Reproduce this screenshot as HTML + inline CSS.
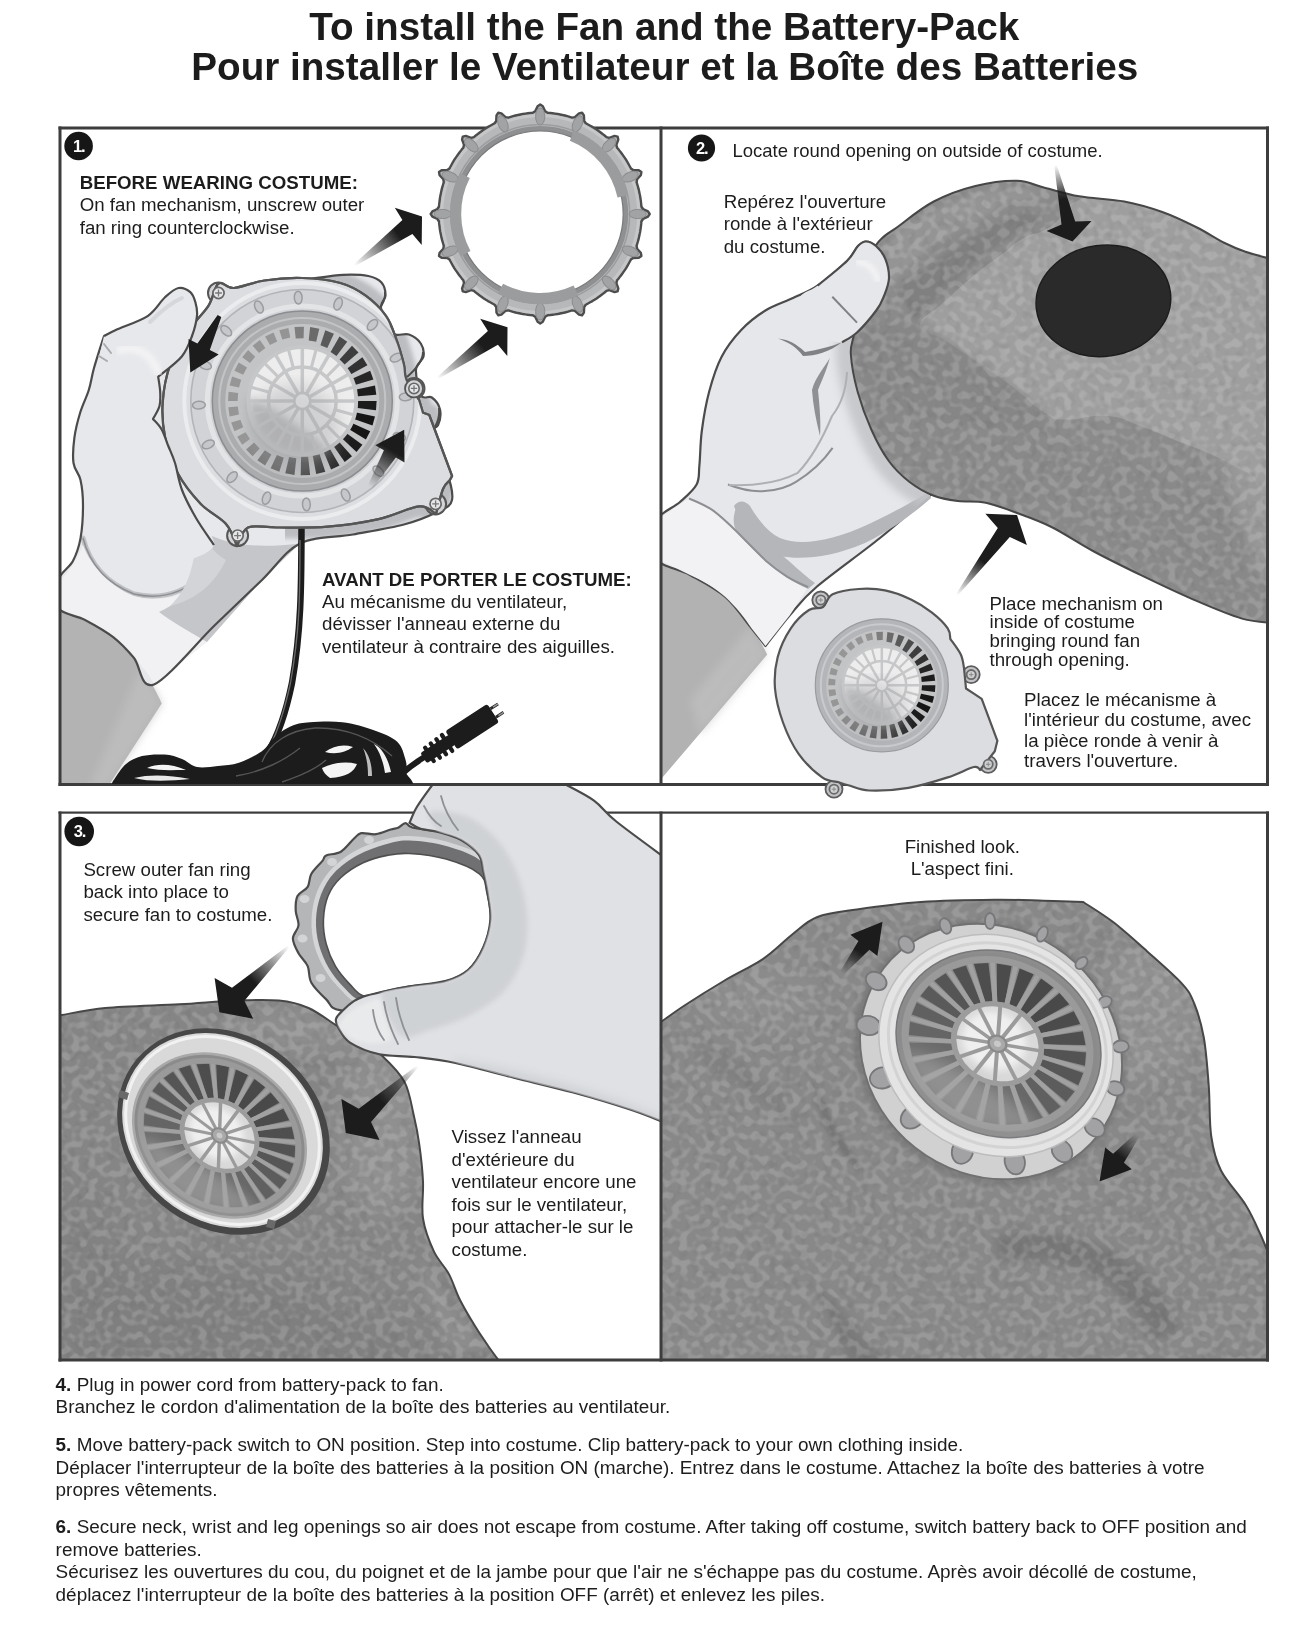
<!DOCTYPE html>
<html lang="en"><head><meta charset="utf-8"><title>To install the Fan and the Battery-Pack</title>
<style>
html,body{margin:0;padding:0;background:#fff;}
body{width:1300px;height:1625px;overflow:hidden;font-family:"Liberation Sans",sans-serif;}
svg{display:block;font-family:"Liberation Sans",sans-serif;}
</style></head><body>
<svg width="1300" height="1625" viewBox="0 0 1300 1625">
<filter id="soft" x="0" y="0" width="1300" height="1625" filterUnits="userSpaceOnUse"><feGaussianBlur stdDeviation="0.55"/></filter>
<g filter="url(#soft)">
<!-- defs -->
<defs>
<clipPath id="cp1"><rect x="60" y="128" width="600" height="656"/></clipPath>
<clipPath id="cp2"><rect x="662" y="128" width="605" height="656"/></clipPath>
<clipPath id="cp3"><rect x="60" y="813" width="600" height="547"/></clipPath>
<clipPath id="cp4"><rect x="662" y="813" width="605" height="547"/></clipPath>
<filter id="noise" x="0" y="0" width="100%" height="100%">
<feTurbulence type="fractalNoise" baseFrequency="0.125 0.135" numOctaves="1" seed="7" result="n"/>
<feColorMatrix type="matrix" values="0 0 0 0 1  0 0 0 0 1  0 0 0 0 1  6 0 0 0 -2.78"/>
</filter>
<filter id="noiseD" x="0" y="0" width="100%" height="100%">
<feTurbulence type="fractalNoise" baseFrequency="0.13 0.10" numOctaves="1" seed="23" result="n"/>
<feColorMatrix type="matrix" values="0 0 0 0 0  0 0 0 0 0  0 0 0 0 0  5 0 0 0 -2.7"/>
</filter>
<filter id="b2"><feGaussianBlur stdDeviation="2"/></filter>
<filter id="b4"><feGaussianBlur stdDeviation="4"/></filter>
<filter id="b8"><feGaussianBlur stdDeviation="8"/></filter>
<filter id="b14"><feGaussianBlur stdDeviation="14"/></filter>
</defs>
<rect x="0" y="0" width="1300" height="1625" fill="#ffffff"/>
<!-- panel1 -->
<g clip-path="url(#cp1)">
<path d="M55,606 C80,618 100,628 113.5,637.4 C125,647 140,665 151.5,683 C156,692 160,699 161.7,703.4 L108.4,786 L55,786Z" fill="#b3b3b4"/>
<path d="M140,668 C150,682 158,696 161.7,703.4 L108.4,786 L90,786Z" fill="#c0c0c1" opacity=".7" filter="url(#b4)"/>
<path d="M58,580C60.5,572.2 69,568.1 72.8,561.2C76.5,554.3 78.8,547.7 80.5,538.4C82.2,529.1 83,515.1 83,505.4C83,495.7 82.1,487.1 80.5,480C78.9,472.9 74.5,470.1 73.5,463C72.5,455.9 73.3,446.1 74.4,437.7C75.5,429.2 77.9,420.2 80.3,412.3C82.7,404.4 86.5,397.4 88.8,390C91.1,382.6 91.5,377 94,368C96.5,359 102.3,341.3 104,336C113.3,336.3 150.7,337.7 160,338C175,332.5 225.7,313.5 250,305C274.3,296.5 295.5,291.4 306,287C316.5,282.6 311.8,279.9 313,278.5C318,277.9 333.8,275.2 343,274.8C352.2,274.4 361.9,274.7 368.3,276C374.7,277.3 378.6,279.2 381.5,282.5C384.4,285.8 385.6,291.4 385.5,295.7C385.4,299.9 380.1,301.8 381,308C381.9,314.2 386.5,328.6 391.2,333C395.9,337.4 404.1,332.8 409,334.5C413.9,336.2 418.4,339.8 420.8,343.5C423.2,347.2 424.3,352.3 423.5,356.6C422.7,360.9 416.4,363 416,369.5C415.6,376 418.4,390.8 421,395.5C423.6,400.2 428.6,395.2 431.8,397.5C435,399.8 439,404.9 440,409.5C441,414.1 440,420.9 438,425.2C436,429.4 426.7,427.5 428,435C429.3,442.5 442,459.2 446,470C450,480.8 453.5,493 452,500C450.5,507 445,507.9 437,512C429,516.1 417.9,520.8 403.9,524.5C389.9,528.2 370.3,531.3 353,534.5C335.7,537.7 315.2,535.9 300,543.5C284.8,551.1 276.2,566.4 262,580C247.8,593.6 233,607.6 215,625C197,642.4 167.5,678.9 154,684.4C140.5,689.9 140.6,665.5 133.8,657.7C127.1,649.9 121.6,643.7 113.5,637.4C105.4,631.1 94.2,624.9 85,620C75.8,615.1 62.5,614.7 58,608C53.5,601.3 55.5,587.8 58,580Z" fill="#e7e8eb"/>
<path d="M83,538 C90,565 108,584 134,594 C160,600 182,594 202,576 C208,568 212,560 214,552" fill="none" stroke="#b9bbbf" stroke-width="5" stroke-linecap="round" opacity=".9"/>
<path d="M83,538 C90,565 108,584 134,594 C160,600 182,594 202,576" fill="none" stroke="#8d8f93" stroke-width="1.5"/>
<path d="M58,584 C70,570 78,558 83,545 C92,568 110,586 134,596 C160,603 185,597 204,580 L232,612 L207,642 L154,684.4 C148,672 140,664 133.8,657.7 C126,650 120,643 113.5,637.4 C100,628 80,618 58,608Z" fill="#f1f1f3"/>
<path d="M212,536 C235,546 262,548 300,543.5 L262,580 L207,642 C190,632 172,622 159,612 C175,604 192,594 203,578 C210,566 214,552 212,536Z" fill="#c5c6ca"/>
<path d="M196,518 C203,538 212,552 226,560 C214,585 195,600 170,606 C188,590 198,560 196,518Z" fill="#d3d4d8"/>
<clipPath id="bh1"><path d="M58,580C60.5,572.2 69,568.1 72.8,561.2C76.5,554.3 78.8,547.7 80.5,538.4C82.2,529.1 83,515.1 83,505.4C83,495.7 82.1,487.1 80.5,480C78.9,472.9 74.5,470.1 73.5,463C72.5,455.9 73.3,446.1 74.4,437.7C75.5,429.2 77.9,420.2 80.3,412.3C82.7,404.4 86.5,397.4 88.8,390C91.1,382.6 91.5,377 94,368C96.5,359 102.3,341.3 104,336C113.3,336.3 150.7,337.7 160,338C175,332.5 225.7,313.5 250,305C274.3,296.5 295.5,291.4 306,287C316.5,282.6 311.8,279.9 313,278.5C318,277.9 333.8,275.2 343,274.8C352.2,274.4 361.9,274.7 368.3,276C374.7,277.3 378.6,279.2 381.5,282.5C384.4,285.8 385.6,291.4 385.5,295.7C385.4,299.9 380.1,301.8 381,308C381.9,314.2 386.5,328.6 391.2,333C395.9,337.4 404.1,332.8 409,334.5C413.9,336.2 418.4,339.8 420.8,343.5C423.2,347.2 424.3,352.3 423.5,356.6C422.7,360.9 416.4,363 416,369.5C415.6,376 418.4,390.8 421,395.5C423.6,400.2 428.6,395.2 431.8,397.5C435,399.8 439,404.9 440,409.5C441,414.1 440,420.9 438,425.2C436,429.4 426.7,427.5 428,435C429.3,442.5 442,459.2 446,470C450,480.8 453.5,493 452,500C450.5,507 445,507.9 437,512C429,516.1 417.9,520.8 403.9,524.5C389.9,528.2 370.3,531.3 353,534.5C335.7,537.7 315.2,535.9 300,543.5C284.8,551.1 276.2,566.4 262,580C247.8,593.6 233,607.6 215,625C197,642.4 167.5,678.9 154,684.4C140.5,689.9 140.6,665.5 133.8,657.7C127.1,649.9 121.6,643.7 113.5,637.4C105.4,631.1 94.2,624.9 85,620C75.8,615.1 62.5,614.7 58,608C53.5,601.3 55.5,587.8 58,580Z"/></clipPath>
<clipPath id="bh1r"><rect x="285" y="260" width="200" height="300"/></clipPath><g clip-path="url(#bh1r)"><g clip-path="url(#bh1)"><path d="M218.5,283.5C222.7,280.5 226.2,288.5 233.8,288C241.4,287.5 252.8,282.2 264.2,280.5C275.6,278.8 289.6,277.6 302.3,278C315,278.4 329.8,280.1 340.4,283C351,285.9 358.2,290.2 365.8,295.7C373.4,301.2 380.9,308.8 386,316C391.1,323.2 393.2,330.8 396.2,338.8C399.2,346.8 402.2,357.4 403.9,364.2C405.6,371 403.9,373.6 406.4,379.5C408.9,385.4 417,396.4 419.1,399.8C419.7,401.9 422.3,410.4 422.9,412.5C424,412.9 428.2,414.6 429.3,415C433.1,425.2 448.3,465.8 452.1,476C451.7,476.8 450,479.8 449.6,480.5C448.5,481.9 445.3,483.4 443,489C440.7,494.6 437.2,509.8 436,514C433.2,512.7 428.7,505.5 419.1,506.4C409.5,507.2 393.7,515.7 378.5,519.1C363.3,522.5 344.6,525.3 327.7,526.7C310.8,528.1 290.2,527.4 276.9,527.5C263.6,527.6 254.7,524.4 248,527.5C241.3,530.6 238.8,542.9 237,546C235.2,542.4 232.2,531.2 226.2,524.2C220.2,517.2 208.9,512.4 200.8,503.9C192.8,495.4 183.8,484.4 177.9,473.4C172,462.4 167.7,449.8 165.2,437.9C162.7,426 161.8,414.6 162.7,402.3C163.5,390 166.1,376.1 170.3,364.2C174.5,352.3 181.8,340.9 188.1,331.2C194.4,321.5 203.3,313.8 208.4,305.9C213.5,297.9 214.3,286.5 218.5,283.5Z" fill="none" stroke="#bcbdc1" stroke-width="22" filter="url(#b2)"/></g></g>
<path d="M58,580C60.5,572.2 69,568.1 72.8,561.2C76.5,554.3 78.8,547.7 80.5,538.4C82.2,529.1 83,515.1 83,505.4C83,495.7 82.1,487.1 80.5,480C78.9,472.9 74.5,470.1 73.5,463C72.5,455.9 73.3,446.1 74.4,437.7C75.5,429.2 77.9,420.2 80.3,412.3C82.7,404.4 86.5,397.4 88.8,390C91.1,382.6 91.5,377 94,368C96.5,359 102.3,341.3 104,336C113.3,336.3 150.7,337.7 160,338C175,332.5 225.7,313.5 250,305C274.3,296.5 295.5,291.4 306,287C316.5,282.6 311.8,279.9 313,278.5C318,277.9 333.8,275.2 343,274.8C352.2,274.4 361.9,274.7 368.3,276C374.7,277.3 378.6,279.2 381.5,282.5C384.4,285.8 385.6,291.4 385.5,295.7C385.4,299.9 380.1,301.8 381,308C381.9,314.2 386.5,328.6 391.2,333C395.9,337.4 404.1,332.8 409,334.5C413.9,336.2 418.4,339.8 420.8,343.5C423.2,347.2 424.3,352.3 423.5,356.6C422.7,360.9 416.4,363 416,369.5C415.6,376 418.4,390.8 421,395.5C423.6,400.2 428.6,395.2 431.8,397.5C435,399.8 439,404.9 440,409.5C441,414.1 440,420.9 438,425.2C436,429.4 426.7,427.5 428,435C429.3,442.5 442,459.2 446,470C450,480.8 453.5,493 452,500C450.5,507 445,507.9 437,512C429,516.1 417.9,520.8 403.9,524.5C389.9,528.2 370.3,531.3 353,534.5C335.7,537.7 315.2,535.9 300,543.5C284.8,551.1 276.2,566.4 262,580C247.8,593.6 233,607.6 215,625C197,642.4 167.5,678.9 154,684.4C140.5,689.9 140.6,665.5 133.8,657.7C127.1,649.9 121.6,643.7 113.5,637.4C105.4,631.1 94.2,624.9 85,620C75.8,615.1 62.5,614.7 58,608C53.5,601.3 55.5,587.8 58,580Z" fill="none" stroke="#4b4b4b" stroke-width="2.2" stroke-linejoin="round"/>
<path d="M372,316 C380,310 386,300 385,292 M407,377 C415,370 423,360 423,352 M428,435 C436,428 440,418 439,408" fill="none" stroke="#4b4b4b" stroke-width="2"/>
<path d="M301.5,520 C301.5,590 301,632 292,683 C286,712 279,734 268,752" fill="none" stroke="#1d1d1d" stroke-width="6.5"/>
<path d="M300,540 C300,600 299.5,632 290.5,683 C285,708 279,728 271,744" fill="none" stroke="#6d6d6d" stroke-width="1.3"/>
<circle cx="218.5" cy="293" r="10.5" fill="#d3d4d7" stroke="#555" stroke-width="2"/>
<circle cx="414" cy="388.4" r="10.5" fill="#d3d4d7" stroke="#555" stroke-width="2"/>
<circle cx="435.6" cy="503.9" r="10.5" fill="#d3d4d7" stroke="#555" stroke-width="2"/>
<circle cx="237.6" cy="535.6" r="10.5" fill="#d3d4d7" stroke="#555" stroke-width="2"/>
<path d="M218.5,283.5C222.7,280.5 226.2,288.5 233.8,288C241.4,287.5 252.8,282.2 264.2,280.5C275.6,278.8 289.6,277.6 302.3,278C315,278.4 329.8,280.1 340.4,283C351,285.9 358.2,290.2 365.8,295.7C373.4,301.2 380.9,308.8 386,316C391.1,323.2 393.2,330.8 396.2,338.8C399.2,346.8 402.2,357.4 403.9,364.2C405.6,371 403.9,373.6 406.4,379.5C408.9,385.4 417,396.4 419.1,399.8C419.7,401.9 422.3,410.4 422.9,412.5C424,412.9 428.2,414.6 429.3,415C433.1,425.2 448.3,465.8 452.1,476C451.7,476.8 450,479.8 449.6,480.5C448.5,481.9 445.3,483.4 443,489C440.7,494.6 437.2,509.8 436,514C433.2,512.7 428.7,505.5 419.1,506.4C409.5,507.2 393.7,515.7 378.5,519.1C363.3,522.5 344.6,525.3 327.7,526.7C310.8,528.1 290.2,527.4 276.9,527.5C263.6,527.6 254.7,524.4 248,527.5C241.3,530.6 238.8,542.9 237,546C235.2,542.4 232.2,531.2 226.2,524.2C220.2,517.2 208.9,512.4 200.8,503.9C192.8,495.4 183.8,484.4 177.9,473.4C172,462.4 167.7,449.8 165.2,437.9C162.7,426 161.8,414.6 162.7,402.3C163.5,390 166.1,376.1 170.3,364.2C174.5,352.3 181.8,340.9 188.1,331.2C194.4,321.5 203.3,313.8 208.4,305.9C213.5,297.9 214.3,286.5 218.5,283.5Z" fill="#dcdde0" stroke="#555" stroke-width="2.2" stroke-linejoin="round"/>
<clipPath id="hs1"><path d="M218.5,283.5C222.7,280.5 226.2,288.5 233.8,288C241.4,287.5 252.8,282.2 264.2,280.5C275.6,278.8 289.6,277.6 302.3,278C315,278.4 329.8,280.1 340.4,283C351,285.9 358.2,290.2 365.8,295.7C373.4,301.2 380.9,308.8 386,316C391.1,323.2 393.2,330.8 396.2,338.8C399.2,346.8 402.2,357.4 403.9,364.2C405.6,371 403.9,373.6 406.4,379.5C408.9,385.4 417,396.4 419.1,399.8C419.7,401.9 422.3,410.4 422.9,412.5C424,412.9 428.2,414.6 429.3,415C433.1,425.2 448.3,465.8 452.1,476C451.7,476.8 450,479.8 449.6,480.5C448.5,481.9 445.3,483.4 443,489C440.7,494.6 437.2,509.8 436,514C433.2,512.7 428.7,505.5 419.1,506.4C409.5,507.2 393.7,515.7 378.5,519.1C363.3,522.5 344.6,525.3 327.7,526.7C310.8,528.1 290.2,527.4 276.9,527.5C263.6,527.6 254.7,524.4 248,527.5C241.3,530.6 238.8,542.9 237,546C235.2,542.4 232.2,531.2 226.2,524.2C220.2,517.2 208.9,512.4 200.8,503.9C192.8,495.4 183.8,484.4 177.9,473.4C172,462.4 167.7,449.8 165.2,437.9C162.7,426 161.8,414.6 162.7,402.3C163.5,390 166.1,376.1 170.3,364.2C174.5,352.3 181.8,340.9 188.1,331.2C194.4,321.5 203.3,313.8 208.4,305.9C213.5,297.9 214.3,286.5 218.5,283.5Z"/></clipPath><g clip-path="url(#hs1)">
<circle cx="302.3" cy="401.0" r="118" fill="none" stroke="#ecedef" stroke-width="4" opacity=".9"/>
</g><g clip-path="url(#hs1)">
<circle cx="302.3" cy="401.0" r="111.5" fill="#d2d3d6" stroke="#b3b4b7" stroke-width="1.6"/>
<circle cx="302.3" cy="401.0" r="95" fill="none" stroke="#e3e4e6" stroke-width="5"/>
<ellipse cx="298.2" cy="297.6" rx="6.4" ry="3.9" transform="rotate(-92.3 298.2 297.6)" fill="#c6c7ca" stroke="#9b9c9f" stroke-width="1.5"/>
<ellipse cx="338.1" cy="303.9" rx="6.4" ry="3.9" transform="rotate(-69.8 338.1 303.9)" fill="#c6c7ca" stroke="#9b9c9f" stroke-width="1.5"/>
<ellipse cx="372.5" cy="324.9" rx="6.4" ry="3.9" transform="rotate(-47.3 372.5 324.9)" fill="#c6c7ca" stroke="#9b9c9f" stroke-width="1.5"/>
<ellipse cx="396.3" cy="357.6" rx="6.4" ry="3.9" transform="rotate(-24.8 396.3 357.6)" fill="#c6c7ca" stroke="#9b9c9f" stroke-width="1.5"/>
<ellipse cx="405.7" cy="396.9" rx="6.4" ry="3.9" transform="rotate(-2.3 405.7 396.9)" fill="#c6c7ca" stroke="#9b9c9f" stroke-width="1.5"/>
<ellipse cx="399.4" cy="436.8" rx="6.4" ry="3.9" transform="rotate(20.2 399.4 436.8)" fill="#c6c7ca" stroke="#9b9c9f" stroke-width="1.5"/>
<ellipse cx="378.4" cy="471.2" rx="6.4" ry="3.9" transform="rotate(42.7 378.4 471.2)" fill="#c6c7ca" stroke="#9b9c9f" stroke-width="1.5"/>
<ellipse cx="345.7" cy="495" rx="6.4" ry="3.9" transform="rotate(65.2 345.7 495)" fill="#c6c7ca" stroke="#9b9c9f" stroke-width="1.5"/>
<ellipse cx="306.4" cy="504.4" rx="6.4" ry="3.9" transform="rotate(87.7 306.4 504.4)" fill="#c6c7ca" stroke="#9b9c9f" stroke-width="1.5"/>
<ellipse cx="266.5" cy="498.1" rx="6.4" ry="3.9" transform="rotate(110.2 266.5 498.1)" fill="#c6c7ca" stroke="#9b9c9f" stroke-width="1.5"/>
<ellipse cx="232.1" cy="477.1" rx="6.4" ry="3.9" transform="rotate(132.7 232.1 477.1)" fill="#c6c7ca" stroke="#9b9c9f" stroke-width="1.5"/>
<ellipse cx="208.3" cy="444.4" rx="6.4" ry="3.9" transform="rotate(155.2 208.3 444.4)" fill="#c6c7ca" stroke="#9b9c9f" stroke-width="1.5"/>
<ellipse cx="198.9" cy="405.1" rx="6.4" ry="3.9" transform="rotate(177.7 198.9 405.1)" fill="#c6c7ca" stroke="#9b9c9f" stroke-width="1.5"/>
<ellipse cx="205.2" cy="365.2" rx="6.4" ry="3.9" transform="rotate(200.2 205.2 365.2)" fill="#c6c7ca" stroke="#9b9c9f" stroke-width="1.5"/>
<ellipse cx="226.2" cy="330.8" rx="6.4" ry="3.9" transform="rotate(222.7 226.2 330.8)" fill="#c6c7ca" stroke="#9b9c9f" stroke-width="1.5"/>
<ellipse cx="258.9" cy="307" rx="6.4" ry="3.9" transform="rotate(245.2 258.9 307)" fill="#c6c7ca" stroke="#9b9c9f" stroke-width="1.5"/>
</g>
<path d="M218.5,283.5C222.7,280.5 226.2,288.5 233.8,288C241.4,287.5 252.8,282.2 264.2,280.5C275.6,278.8 289.6,277.6 302.3,278C315,278.4 329.8,280.1 340.4,283C351,285.9 358.2,290.2 365.8,295.7C373.4,301.2 380.9,308.8 386,316C391.1,323.2 393.2,330.8 396.2,338.8C399.2,346.8 402.2,357.4 403.9,364.2C405.6,371 403.9,373.6 406.4,379.5C408.9,385.4 417,396.4 419.1,399.8C419.7,401.9 422.3,410.4 422.9,412.5C424,412.9 428.2,414.6 429.3,415C433.1,425.2 448.3,465.8 452.1,476C451.7,476.8 450,479.8 449.6,480.5C448.5,481.9 445.3,483.4 443,489C440.7,494.6 437.2,509.8 436,514C433.2,512.7 428.7,505.5 419.1,506.4C409.5,507.2 393.7,515.7 378.5,519.1C363.3,522.5 344.6,525.3 327.7,526.7C310.8,528.1 290.2,527.4 276.9,527.5C263.6,527.6 254.7,524.4 248,527.5C241.3,530.6 238.8,542.9 237,546C235.2,542.4 232.2,531.2 226.2,524.2C220.2,517.2 208.9,512.4 200.8,503.9C192.8,495.4 183.8,484.4 177.9,473.4C172,462.4 167.7,449.8 165.2,437.9C162.7,426 161.8,414.6 162.7,402.3C163.5,390 166.1,376.1 170.3,364.2C174.5,352.3 181.8,340.9 188.1,331.2C194.4,321.5 203.3,313.8 208.4,305.9C213.5,297.9 214.3,286.5 218.5,283.5Z" fill="none" stroke="#555" stroke-width="2.2" stroke-linejoin="round"/>
<circle cx="218.5" cy="293" r="5.6" fill="#e6e7e9" stroke="#666" stroke-width="1.7"/><path d="M215.1,293h6.8M218.5,289.6v6.8" stroke="#777" stroke-width="1.3"/>
<circle cx="414" cy="388.4" r="5.6" fill="#e6e7e9" stroke="#666" stroke-width="1.7"/><path d="M410.6,388.4h6.8M414,385.0v6.8" stroke="#777" stroke-width="1.3"/>
<circle cx="435.6" cy="503.9" r="5.6" fill="#e6e7e9" stroke="#666" stroke-width="1.7"/><path d="M432.20000000000005,503.9h6.8M435.6,500.5v6.8" stroke="#777" stroke-width="1.3"/>
<circle cx="237.6" cy="535.6" r="5.6" fill="#e6e7e9" stroke="#666" stroke-width="1.7"/><path d="M234.2,535.6h6.8M237.6,532.2v6.8" stroke="#777" stroke-width="1.3"/>
<circle cx="414" cy="388.4" r="9" fill="#d3d4d7" stroke="#555" stroke-width="1.8"/><circle cx="414" cy="388.4" r="5.2" fill="#e6e7e9" stroke="#666" stroke-width="1.6"/><path d="M410.8,388.4h6.4M414,385.2v6.4" stroke="#777" stroke-width="1.3"/>
<circle cx="302.3" cy="401.0" r="90" fill="#abacae" stroke="#8c8d90" stroke-width="1.5"/>
<circle cx="302.3" cy="401.0" r="83" fill="none" stroke="#c3c4c6" stroke-width="2"/>
<g transform="translate(302.3 401) rotate(0) scale(1 1)">
<circle r="77" fill="#c3c4c6"/>
<path d="M49.6,0L74.3,0L73.7,9.3L49.2,6.2Z" fill="#1a1a1a"/>
<path d="M48.2,10.2L72.7,15.4L70.2,24.4L46.6,16.2Z" fill="#181818"/>
<path d="M45.1,20.1L67.9,30.2L63.6,38.5L42.3,25.6Z" fill="#181818"/>
<path d="M40.4,29.4L60.1,43.7L54.2,50.9L36.4,34.2Z" fill="#1c1c1c"/>
<path d="M34,37.8L49.7,55.2L42.4,61L29,41.8Z" fill="#222222"/>
<path d="M26.1,45.2L37.2,64.4L28.8,68.5L20.2,48.1Z" fill="#2b2b2b"/>
<path d="M16.6,51.2L23,70.7L13.9,73L10.1,52.9Z" fill="#363636"/>
<path d="M5.8,55.4L7.8,73.9L-1.6,74.3L-1.2,55.6Z" fill="#434343"/>
<path d="M-6,57.3L-7.8,73.9L-17,72.3L-13.2,56.1Z" fill="#525252"/>
<path d="M-18.5,56.8L-23,70.7L-31.6,67.2L-25.4,54.1Z" fill="#636363"/>
<path d="M-30.9,53.5L-37.2,64.4L-44.9,59.2L-37.4,49.2Z" fill="#747474"/>
<path d="M-42.6,47.4L-49.7,55.2L-56.2,48.6L-48.2,41.6Z" fill="#888888"/>
<path d="M-52.3,38L-60.1,43.7L-65.1,35.8L-56.7,31.2Z" fill="#969696"/>
<path d="M-59.1,26.3L-67.9,30.2L-71.1,21.5L-61.9,18.7Z" fill="#969696"/>
<path d="M-63.3,13.4L-72.7,15.4L-74,6.2L-64.5,5.4Z" fill="#969696"/>
<path d="M-64.7,0L-74.3,0L-73.7,-9.3L-64.2,-8.1Z" fill="#969696"/>
<path d="M-63.3,-13.4L-72.7,-15.4L-70.2,-24.4L-61.1,-21.3Z" fill="#969696"/>
<path d="M-59.1,-26.3L-67.9,-30.2L-63.6,-38.5L-55.3,-33.5Z" fill="#969696"/>
<path d="M-52.3,-38L-60.1,-43.7L-54.2,-50.9L-47.1,-44.3Z" fill="#969696"/>
<path d="M-43.3,-48.1L-49.7,-55.2L-42.4,-61L-36.9,-53.1Z" fill="#969696"/>
<path d="M-32.3,-56L-37.2,-64.4L-28.8,-68.5L-25.1,-59.6Z" fill="#969696"/>
<path d="M-20,-61.5L-23,-70.7L-13.9,-73L-12.1,-63.5Z" fill="#949494"/>
<path d="M-6.6,-62.4L-7.8,-73.9L1.6,-74.3L1.3,-62.8Z" fill="#7e7e7e"/>
<path d="M6.4,-60.4L7.8,-73.9L17,-72.3L13.9,-59.2Z" fill="#6b6b6b"/>
<path d="M18.1,-55.8L23,-70.7L31.6,-67.2L25,-53.1Z" fill="#5a5a5a"/>
<path d="M28.3,-49.1L37.2,-64.4L44.9,-59.2L34.2,-45.1Z" fill="#4b4b4b"/>
<path d="M36.6,-40.7L49.7,-55.2L56.2,-48.6L41.4,-35.7Z" fill="#3c3c3c"/>
<path d="M42.8,-31.1L60.1,-43.7L65.1,-35.8L46.4,-25.5Z" fill="#303030"/>
<path d="M47,-20.9L67.9,-30.2L71.1,-21.5L49.3,-14.9Z" fill="#262626"/>
<path d="M49.3,-10.5L72.7,-15.4L74,-6.2L50.2,-4.2Z" fill="#1f1f1f"/>
<circle r="53.9" fill="#ededee"/>
<path d="M-53.9,-3.9 A53.9,53.9 0 0 0 26.9,48.5 C7.7,34.6 -19.2,11.5 -53.9,-3.9Z" fill="#9c9d9f" opacity=".6" filter="url(#b4)"/>
<line x1="0" y1="0" x2="53.9" y2="0" stroke="#c6c7c9" stroke-width="3.5"/>
<line x1="32.7" y1="8.8" x2="52.1" y2="14" stroke="#c6c7c9" stroke-width="3.1"/>
<line x1="0" y1="0" x2="46.7" y2="26.9" stroke="#c6c7c9" stroke-width="3.5"/>
<line x1="24" y1="24" x2="38.1" y2="38.1" stroke="#c6c7c9" stroke-width="3.1"/>
<line x1="0" y1="0" x2="27" y2="46.7" stroke="#c6c7c9" stroke-width="3.5"/>
<line x1="8.8" y1="32.7" x2="14" y2="52.1" stroke="#c6c7c9" stroke-width="3.1"/>
<line x1="0" y1="0" x2="0" y2="53.9" stroke="#c6c7c9" stroke-width="3.5"/>
<line x1="-8.8" y1="32.7" x2="-14" y2="52.1" stroke="#c6c7c9" stroke-width="3.1"/>
<line x1="-0" y1="0" x2="-26.9" y2="46.7" stroke="#c6c7c9" stroke-width="3.5"/>
<line x1="-24" y1="24" x2="-38.1" y2="38.1" stroke="#c6c7c9" stroke-width="3.1"/>
<line x1="-0" y1="0" x2="-46.7" y2="26.9" stroke="#c6c7c9" stroke-width="3.5"/>
<line x1="-32.7" y1="8.8" x2="-52.1" y2="14" stroke="#c6c7c9" stroke-width="3.1"/>
<line x1="-0" y1="0" x2="-53.9" y2="0" stroke="#c6c7c9" stroke-width="3.5"/>
<line x1="-32.7" y1="-8.8" x2="-52.1" y2="-14" stroke="#c6c7c9" stroke-width="3.1"/>
<line x1="-0" y1="-0" x2="-46.7" y2="-26.9" stroke="#c6c7c9" stroke-width="3.5"/>
<line x1="-24" y1="-24" x2="-38.1" y2="-38.1" stroke="#c6c7c9" stroke-width="3.1"/>
<line x1="-0" y1="-0" x2="-27" y2="-46.7" stroke="#c6c7c9" stroke-width="3.5"/>
<line x1="-8.8" y1="-32.7" x2="-14" y2="-52.1" stroke="#c6c7c9" stroke-width="3.1"/>
<line x1="-0" y1="-0" x2="-0" y2="-53.9" stroke="#c6c7c9" stroke-width="3.5"/>
<line x1="8.8" y1="-32.7" x2="14" y2="-52.1" stroke="#c6c7c9" stroke-width="3.1"/>
<line x1="0" y1="-0" x2="27" y2="-46.7" stroke="#c6c7c9" stroke-width="3.5"/>
<line x1="24" y1="-24" x2="38.1" y2="-38.1" stroke="#c6c7c9" stroke-width="3.1"/>
<line x1="0" y1="-0" x2="46.7" y2="-27" stroke="#c6c7c9" stroke-width="3.5"/>
<line x1="32.7" y1="-8.8" x2="52.1" y2="-14" stroke="#c6c7c9" stroke-width="3.1"/>
<circle r="53.9" fill="none" stroke="#c6c7c9" stroke-width="3.9"/>
<circle r="33.9" fill="none" stroke="#c6c7c9" stroke-width="3.5"/>
<circle r="8.1" fill="#f2f2f3" stroke="#c6c7c9" stroke-width="2.7"/>
</g>
<circle cx="294.3" cy="431.0" r="46" fill="#9d9ea0" opacity=".35" filter="url(#b8)"/>
<path d="M104,336C106,335 108.5,333.4 115.8,330C123.1,326.6 139.8,321.3 148,315.8C156.2,310.3 159.9,301.8 165,297.2C170.1,292.6 174.3,288.8 178.5,288C182.7,287.2 187.5,289.8 190.3,292.2C193.1,294.6 194.3,298.4 195.4,302.3C196.5,306.2 197.6,310.2 197,315.8C196.4,321.4 194.5,329.2 192,336C189.5,342.8 187.4,349.7 181.8,356.5C176.2,363.3 162.1,373.4 158.2,376.8C158.5,379.3 160,387.1 160.2,392C160.4,396.9 160.7,401.5 159.5,406C158.3,410.5 154.1,416.8 153,419C154.4,420.7 158.9,424.7 161.5,429.2C164.1,433.7 166.1,440.4 168.3,446C170.6,451.6 172.7,455.7 175,463C177.3,470.3 178.5,480.8 182,490C185.5,499.2 190.7,508.8 196,518C201.3,527.2 216.7,538 214,545C211.3,552 194,560.8 180,560C166,559.2 143.3,553.3 130,540C116.7,526.7 107,500 100,480C93,460 88.7,438 88,420C87.3,402 93.3,386 96,372C98.7,358 102.7,342 104,336Z" fill="#e7e8eb"/>
<path d="M104,336C106,335 108.5,333.4 115.8,330C123.1,326.6 139.8,321.3 148,315.8C156.2,310.3 159.9,301.8 165,297.2C170.1,292.6 174.3,288.8 178.5,288C182.7,287.2 187.5,289.8 190.3,292.2C193.1,294.6 194.3,298.4 195.4,302.3C196.5,306.2 197.6,310.2 197,315.8C196.4,321.4 194.5,329.2 192,336C189.5,342.8 187.4,349.7 181.8,356.5C176.2,363.3 162.1,373.4 158.2,376.8C158.5,379.3 160,387.1 160.2,392C160.4,396.9 160.7,401.5 159.5,406C158.3,410.5 154.1,416.8 153,419C154.4,420.7 158.9,424.7 161.5,429.2C164.1,433.7 166.1,440.4 168.3,446C170.6,451.6 172.7,455.7 175,463C177.3,470.3 178.5,480.8 182,490C185.5,499.2 190.7,508.8 196,518C201.3,527.2 211,540.5 214,545" fill="none" stroke="#4b4b4b" stroke-width="2.2" stroke-linejoin="round"/>
<path d="M150,322 C160,312 170,303 182,298" fill="none" stroke="#d6d7da" stroke-width="4" stroke-linecap="round"/>
<path d="M104,344 l7,9 M99,356 l8,5" stroke="#a9abaf" stroke-width="2" stroke-linecap="round"/>
<path d="M120,350 C135,345 150,352 158,372" fill="none" stroke="#f4f4f6" stroke-width="9" stroke-linecap="round" opacity=".8" filter="url(#b2)"/>
<defs><linearGradient id="ag1" gradientUnits="userSpaceOnUse" x1="370" y1="487" x2="392" y2="450"><stop offset="0" stop-color="#1b1b1b" stop-opacity="0"/><stop offset="1" stop-color="#1b1b1b"/></linearGradient><linearGradient id="ag2" gradientUnits="userSpaceOnUse" x1="354" y1="265" x2="398" y2="233"><stop offset="0" stop-color="#1b1b1b" stop-opacity="0"/><stop offset="1" stop-color="#1b1b1b"/></linearGradient><linearGradient id="ag3" gradientUnits="userSpaceOnUse" x1="437" y1="378" x2="482" y2="345"><stop offset="0" stop-color="#1b1b1b" stop-opacity="0"/><stop offset="1" stop-color="#1b1b1b"/></linearGradient></defs>
<path d="M217.7,315.1L197.4,343.5L188.5,338.9L190.3,372.5L218.7,354.5L209.8,350L221.3,316.9Z" fill="#1b1b1b"/>
<path d="M371.1,490.3L395.9,457.4L404.5,462.6L404.2,429.8L375.3,445.2L383.9,450.3L366.9,487.7Z" fill="url(#ag1)"/>
</g>
<path d="M354.6,266.3L412.4,233.9L421.7,245.1L422,216.5L394.8,207.8L402.4,220.1L353.4,264.7Z" fill="url(#ag2)"/>
<path d="M437.6,379.3L497.9,344.8L507.3,355.9L507.5,327.3L480.2,318.7L487.9,331L436.4,377.7Z" fill="url(#ag3)"/>
<!-- panel2 -->
<g clip-path="url(#cp2)">
<path d="M655,557 C690,572 712,585 725.4,597 C738,608 748,622 751.5,628.3 C760,640 765,650 767.2,654.5 L662,778 L655,790Z" fill="#b2b2b3"/>
<path d="M750,626 L767.2,654.5 L700,735 L690,700Z" fill="#c4c4c5" opacity=".55" filter="url(#b4)"/>
<path d="M655,522C659.2,512.7 673.1,508.2 680,502C686.9,495.8 693.4,490.6 696.6,484.5C699.8,478.4 698.5,474.3 699.4,465.4C700.3,456.5 700.2,443.3 701.8,431C703.4,418.7 705.9,403.8 709.2,391.5C712.5,379.2 716.2,367.2 721.5,357C726.8,346.8 733.8,337.8 741.2,330C748.6,322.2 757.2,315.6 765.8,310.3C774.4,305 784.4,302.1 793,298C801.6,293.9 808.5,291.9 817.5,285.7C826.5,279.5 840.2,267.6 847,261C853.8,254.4 854.8,249.2 858,246C861.2,242.8 863,241.5 866,241.5C869,241.5 872.8,243.2 876,246C879.2,248.8 883,253.2 885.2,258.6C887.4,264 889.2,272.1 889,278.3C888.8,284.5 886.1,290.7 884,296C881.9,301.3 873.9,304.3 876.6,310C879.3,315.7 886.1,311.7 900,330C913.9,348.3 953.3,393.3 960,420C966.7,446.7 945.1,477.3 940,490C934.9,502.7 939.4,488 929.4,496C919.4,504 898.7,522.9 880,538C861.3,553.1 832,573.7 817,586.5C802,599.3 798.6,605.1 790,615C781.4,624.9 769.6,640.8 765.5,646C763.2,643 758.2,636.5 751.5,628.3C744.8,620.1 735.6,605.9 725.4,597C715.1,588.1 701.7,581.5 690,575C678.3,568.5 660.8,566.8 655,558C649.2,549.2 650.8,531.3 655,522Z" fill="#e6e7ea" stroke="#4b4b4b" stroke-width="2.2" stroke-linejoin="round"/>
<path d="M655,522 C668,512 680,504 689,498.5 C700,503 708,507 712.9,510.4 C722,517 731,526 739.4,534.2 C748,543 757,552 765.8,560.7 C773,567 780,572 787,576.6 C794,581 801,584 808.1,587.1 L790,615 L765.5,646 L751.5,628.3 C745,618 736,607 725.4,597 C714,587 703,581 690,575 C678,569 668,564 655,558Z" fill="#f2f2f4"/>
<path d="M734,506 C738,500 745,500 750,506 C758,520 768,532 780,538 C800,546 830,542 869,524 C895,512 915,500 929,492 L931,498 C915,512 895,528 865,543 C830,558 800,560 780,556 C760,548 742,528 734,506Z" fill="#b5b6ba"/>
<path d="M736,508 C748,520 770,545 790,562 C800,571 808,578 815,583 L808.1,589 C801,586 794,582 787,577.5 C780,573 773,568 765.8,561.5 C757,553 748,544 739.4,535 C735,530 731,522 736,508Z" fill="#b5b6ba"/>
<path d="M689,498.5 C700,503 708,507 712.9,510.4 C722,517 731,526 739.4,534.2 C748,543 757,552 765.8,560.7 C773,567 780,572 787,576.6 C794,581 801,584 808.1,587.1" fill="none" stroke="#8d8f93" stroke-width="2"/>
<clipPath id="h2c"><path d="M655,522C659.2,512.7 673.1,508.2 680,502C686.9,495.8 693.4,490.6 696.6,484.5C699.8,478.4 698.5,474.3 699.4,465.4C700.3,456.5 700.2,443.3 701.8,431C703.4,418.7 705.9,403.8 709.2,391.5C712.5,379.2 716.2,367.2 721.5,357C726.8,346.8 733.8,337.8 741.2,330C748.6,322.2 757.2,315.6 765.8,310.3C774.4,305 784.4,302.1 793,298C801.6,293.9 808.5,291.9 817.5,285.7C826.5,279.5 840.2,267.6 847,261C853.8,254.4 854.8,249.2 858,246C861.2,242.8 863,241.5 866,241.5C869,241.5 872.8,243.2 876,246C879.2,248.8 883,253.2 885.2,258.6C887.4,264 889.2,272.1 889,278.3C888.8,284.5 886.1,290.7 884,296C881.9,301.3 873.9,304.3 876.6,310C879.3,315.7 886.1,311.7 900,330C913.9,348.3 953.3,393.3 960,420C966.7,446.7 945.1,477.3 940,490C934.9,502.7 939.4,488 929.4,496C919.4,504 898.7,522.9 880,538C861.3,553.1 832,573.7 817,586.5C802,599.3 798.6,605.1 790,615C781.4,624.9 769.6,640.8 765.5,646C763.2,643 758.2,636.5 751.5,628.3C744.8,620.1 735.6,605.9 725.4,597C715.1,588.1 701.7,581.5 690,575C678.3,568.5 660.8,566.8 655,558C649.2,549.2 650.8,531.3 655,522Z"/></clipPath>
<g clip-path="url(#h2c)"><path d="M854.2,333C855.7,322.4 856.5,304.4 860,290C863.5,275.6 868.5,257.2 875,246.5C881.5,235.8 889.4,233.3 899.2,225.8C909,218.3 921.1,208.1 933.8,201.5C946.5,194.9 961.5,189.4 975.4,186C989.3,182.6 1005.5,180.5 1017,180.8C1028.5,181.1 1034.2,185.1 1044.6,187.7C1055,190.3 1065.9,194 1079.2,196.3C1092.5,198.6 1110.4,198.9 1124.2,201.5C1138,204.1 1150.2,207.7 1162.3,212C1174.4,216.3 1186.6,222.3 1197,227.5C1207.4,232.7 1216.5,239 1224.6,243C1232.7,247 1237,248.9 1245.4,251.7C1253.8,254.5 1270.1,258.6 1275,260C1275,320.5 1275,562.5 1275,623C1269.5,622.3 1255.6,622.5 1242,618.6C1228.4,614.7 1210.2,606.8 1193.5,599.6C1176.8,592.4 1158.2,583.5 1141.5,575.4C1124.8,567.3 1108,559.1 1093,551C1078,542.9 1064.2,533.3 1051.5,527C1038.8,520.7 1028,517 1017,513C1006,508.9 995.6,504.7 985.8,502.7C976,500.7 966.7,502.1 958,501C949.3,499.9 941.9,499 933.8,495.8C925.7,492.6 917.1,487.8 909.6,482C902.1,476.2 895.1,469.7 888.8,461C882.4,452.3 876.7,441.5 871.5,430C866.3,418.5 861.2,404.7 857.7,392C854.2,379.3 851.4,363.6 850.8,353.8C850.2,344 852.7,343.6 854.2,333Z" fill="none" stroke="#c2c3c7" stroke-width="30" opacity=".85" filter="url(#b4)"/></g>
<path d="M728,484.5 C742,490 752,492 764.6,491 C778,490 788,487 796,481.8 C812,472 824,460 832.6,447.8" fill="none" stroke="#8c8e92" stroke-width="2"/>
<path d="M778,338.6 C790,340 796,344 805,352 C818,350 830,347 842,342.3 C830,352 815,356 803,356 C797,348 790,343 778,338.6Z" fill="#7f8185"/>
<path d="M829.8,358 C826,372 822,380 818,390 C820,410 821,425 820,436 C816,420 813,405 812,390 C815,378 824,368 829.8,358Z" fill="#8e9094"/>
<path d="M832.3,296.8 L857,322.6" stroke="#7f8185" stroke-width="2"/>
<path d="M847,372 C846,392 840,406 832,416 C822,440 812,458 797.8,472.8 C780,482 755,486 729,485" fill="none" stroke="#aeb0b4" stroke-width="2"/>
<clipPath id="rk2"><path d="M854.2,333C855.7,322.4 856.5,304.4 860,290C863.5,275.6 868.5,257.2 875,246.5C881.5,235.8 889.4,233.3 899.2,225.8C909,218.3 921.1,208.1 933.8,201.5C946.5,194.9 961.5,189.4 975.4,186C989.3,182.6 1005.5,180.5 1017,180.8C1028.5,181.1 1034.2,185.1 1044.6,187.7C1055,190.3 1065.9,194 1079.2,196.3C1092.5,198.6 1110.4,198.9 1124.2,201.5C1138,204.1 1150.2,207.7 1162.3,212C1174.4,216.3 1186.6,222.3 1197,227.5C1207.4,232.7 1216.5,239 1224.6,243C1232.7,247 1237,248.9 1245.4,251.7C1253.8,254.5 1270.1,258.6 1275,260C1275,320.5 1275,562.5 1275,623C1269.5,622.3 1255.6,622.5 1242,618.6C1228.4,614.7 1210.2,606.8 1193.5,599.6C1176.8,592.4 1158.2,583.5 1141.5,575.4C1124.8,567.3 1108,559.1 1093,551C1078,542.9 1064.2,533.3 1051.5,527C1038.8,520.7 1028,517 1017,513C1006,508.9 995.6,504.7 985.8,502.7C976,500.7 966.7,502.1 958,501C949.3,499.9 941.9,499 933.8,495.8C925.7,492.6 917.1,487.8 909.6,482C902.1,476.2 895.1,469.7 888.8,461C882.4,452.3 876.7,441.5 871.5,430C866.3,418.5 861.2,404.7 857.7,392C854.2,379.3 851.4,363.6 850.8,353.8C850.2,344 852.7,343.6 854.2,333Z"/></clipPath>
<path d="M854.2,333C855.7,322.4 856.5,304.4 860,290C863.5,275.6 868.5,257.2 875,246.5C881.5,235.8 889.4,233.3 899.2,225.8C909,218.3 921.1,208.1 933.8,201.5C946.5,194.9 961.5,189.4 975.4,186C989.3,182.6 1005.5,180.5 1017,180.8C1028.5,181.1 1034.2,185.1 1044.6,187.7C1055,190.3 1065.9,194 1079.2,196.3C1092.5,198.6 1110.4,198.9 1124.2,201.5C1138,204.1 1150.2,207.7 1162.3,212C1174.4,216.3 1186.6,222.3 1197,227.5C1207.4,232.7 1216.5,239 1224.6,243C1232.7,247 1237,248.9 1245.4,251.7C1253.8,254.5 1270.1,258.6 1275,260C1275,320.5 1275,562.5 1275,623C1269.5,622.3 1255.6,622.5 1242,618.6C1228.4,614.7 1210.2,606.8 1193.5,599.6C1176.8,592.4 1158.2,583.5 1141.5,575.4C1124.8,567.3 1108,559.1 1093,551C1078,542.9 1064.2,533.3 1051.5,527C1038.8,520.7 1028,517 1017,513C1006,508.9 995.6,504.7 985.8,502.7C976,500.7 966.7,502.1 958,501C949.3,499.9 941.9,499 933.8,495.8C925.7,492.6 917.1,487.8 909.6,482C902.1,476.2 895.1,469.7 888.8,461C882.4,452.3 876.7,441.5 871.5,430C866.3,418.5 861.2,404.7 857.7,392C854.2,379.3 851.4,363.6 850.8,353.8C850.2,344 852.7,343.6 854.2,333Z" fill="#8b8b8b"/>
<g clip-path="url(#rk2)">
<path d="M920,326C920,315.9 929.4,315.8 944.2,302C959,288.2 959.7,287.1 975.4,274.2C991.1,261.3 990.1,263.2 1003,253.5C1015.9,243.8 1010.9,245.3 1023.8,238C1036.7,230.7 1036.8,236.1 1051.5,226C1066.2,215.9 1059.7,208 1079,200C1098.3,192 1101.9,194.7 1124,196C1146.1,197.3 1142.5,198.6 1162,205C1181.5,211.4 1180.5,211.7 1197,220C1213.5,228.3 1211.2,229.1 1224,236C1236.8,242.9 1230.1,240.9 1245,246C1259.9,251.1 1270.7,190.5 1280,255C1289.3,319.5 1289.2,430.3 1280,488C1270.8,545.7 1263.9,480.5 1245.4,471.5C1226.9,462.5 1229.3,462.5 1210.8,454.2C1192.3,445.9 1194.5,447.8 1176,440.4C1157.5,433 1159.9,433 1141.5,426.5C1123.1,420 1127.3,417.8 1107,416C1086.7,414.2 1082,420.5 1065.4,419.6C1048.8,418.7 1059.4,421.9 1044.6,412.7C1029.8,403.5 1028.5,398.8 1010,385C991.5,371.2 992.9,372.8 975.4,360.8C957.9,348.8 959,349.3 944.2,340C929.4,330.7 920,336.1 920,326Z" fill="#9e9e9e"/>
<path d="M899,290 C930,262 965,238 1000,222 C1010,216 1020,212 1030,212 L1040,222 C1015,232 990,250 965,272 C945,290 930,305 915,322Z" fill="#808080" filter="url(#b2)"/>
<path d="M880,250 C905,225 940,205 980,192 L1017,186 L1050,195 C1010,200 960,225 925,252 C905,268 890,285 880,300Z" fill="#949494" filter="url(#b2)"/>
<path d="M850,335 C875,320 900,318 920,326 C935,334 950,345 975,361 C1000,378 1020,395 1044,413 L1044,440 C990,430 930,420 880,440Z" fill="#868686" filter="url(#b4)"/>
<path d="M860,400 C900,420 960,430 1040,440 C1110,450 1190,480 1280,520 L1280,640 L1100,570 L950,510 L880,470Z" fill="#898989" filter="url(#b4)"/>
<path d="M1220,440 C1245,455 1262,470 1280,480 L1280,600 C1255,570 1235,520 1220,440Z" fill="#a0a0a0" opacity=".7" filter="url(#b8)"/>
<rect x="840" y="170" width="440" height="470" filter="url(#noise)" opacity=".15"/>
<rect x="840" y="170" width="440" height="470" filter="url(#noiseD)" opacity=".04"/>
</g>
<path d="M854.2,333C855.7,322.4 856.5,304.4 860,290C863.5,275.6 868.5,257.2 875,246.5C881.5,235.8 889.4,233.3 899.2,225.8C909,218.3 921.1,208.1 933.8,201.5C946.5,194.9 961.5,189.4 975.4,186C989.3,182.6 1005.5,180.5 1017,180.8C1028.5,181.1 1034.2,185.1 1044.6,187.7C1055,190.3 1065.9,194 1079.2,196.3C1092.5,198.6 1110.4,198.9 1124.2,201.5C1138,204.1 1150.2,207.7 1162.3,212C1174.4,216.3 1186.6,222.3 1197,227.5C1207.4,232.7 1216.5,239 1224.6,243C1232.7,247 1237,248.9 1245.4,251.7C1253.8,254.5 1270.1,258.6 1275,260C1275,320.5 1275,562.5 1275,623C1269.5,622.3 1255.6,622.5 1242,618.6C1228.4,614.7 1210.2,606.8 1193.5,599.6C1176.8,592.4 1158.2,583.5 1141.5,575.4C1124.8,567.3 1108,559.1 1093,551C1078,542.9 1064.2,533.3 1051.5,527C1038.8,520.7 1028,517 1017,513C1006,508.9 995.6,504.7 985.8,502.7C976,500.7 966.7,502.1 958,501C949.3,499.9 941.9,499 933.8,495.8C925.7,492.6 917.1,487.8 909.6,482C902.1,476.2 895.1,469.7 888.8,461C882.4,452.3 876.7,441.5 871.5,430C866.3,418.5 861.2,404.7 857.7,392C854.2,379.3 851.4,363.6 850.8,353.8C850.2,344 852.7,343.6 854.2,333Z" fill="none" stroke="#474747" stroke-width="2"/>
<path d="M800,300C799.2,291.9 809.7,292.2 817.5,285.7C825.3,279.2 840.2,267.6 847,261C853.8,254.4 854.8,249.2 858,246C861.2,242.8 863,241.5 866,241.5C869,241.5 872.8,243.2 876,246C879.2,248.8 883,253.2 885.2,258.6C887.4,264 889.2,272.1 889,278.3C888.8,284.5 886.1,290.7 884,296C881.9,301.3 881.1,303.9 876.6,310C872.1,316.1 862.8,327.1 857,332.5C851.2,337.9 847.8,342.1 842,342.3C836.2,342.6 829,341.1 822,334C815,326.9 800.8,308.1 800,300Z" fill="#e6e7ea"/>
<path d="M817.5,285.7C822.4,281.6 840.2,267.6 847,261C853.8,254.4 854.8,249.2 858,246C861.2,242.8 863,241.5 866,241.5C869,241.5 872.8,243.2 876,246C879.2,248.8 883,253.2 885.2,258.6C887.4,264 889.2,272.1 889,278.3C888.8,284.5 886.1,290.7 884,296C881.9,301.3 881.1,303.9 876.6,310C872.1,316.1 862.8,327.1 857,332.5C851.2,337.9 844.5,340.7 842,342.3" fill="none" stroke="#4b4b4b" stroke-width="2.2"/>
<path d="M832.3,296.8 L857,322.6" stroke="#7f8185" stroke-width="2"/>
<path d="M858,262 C866,262 874,268 878,280" fill="none" stroke="#f6f6f8" stroke-width="6" stroke-linecap="round" opacity=".8" filter="url(#b2)"/>
<ellipse cx="1103.4" cy="300.8" rx="67.5" ry="55.5" transform="rotate(-8 1103.4 300.8)" fill="#2c2a2b" stroke="#1e1e1e" stroke-width="1.5"/>
<defs><linearGradient id="ag4" gradientUnits="userSpaceOnUse" x1="1055" y1="165" x2="1062" y2="200"><stop offset="0" stop-color="#1b1b1b" stop-opacity="0"/><stop offset="1" stop-color="#1b1b1b"/></linearGradient><linearGradient id="ag5" gradientUnits="userSpaceOnUse" x1="957" y1="595" x2="982" y2="560"><stop offset="0" stop-color="#1b1b1b" stop-opacity="0"/><stop offset="1" stop-color="#1b1b1b"/></linearGradient></defs>
<path d="M1054,163.2L1061.5,224.5L1046.6,230.9L1072.5,241.5L1091.5,220.9L1075.2,221.4L1056,162.8Z" fill="url(#ag4)"/>
<path d="M956.8,596.6L1009.8,537.1L1026.9,545L1017,515L985.4,513.7L997.8,528.1L955.2,595.4Z" fill="url(#ag5)"/>
</g>
<!-- panel3 -->
<g clip-path="url(#cp3)">
<clipPath id="rk3"><path d="M50,1016C51.5,957.6 50,1016.7 59.2,1015.4C68.4,1014.1 85.4,1009.9 105.4,1008C125.4,1006.1 157.7,1005.5 179.2,1004.3C200.7,1003.1 218,1001.2 234.6,1000.6C251.2,1000 266.7,999.4 279,1000.6C291.3,1001.8 298.7,1003.7 308.5,1008C318.3,1012.3 329.4,1021.2 338,1026.5C346.6,1031.8 352.6,1035.1 360,1040C367.4,1044.9 374.9,1049 382.3,1056C389.7,1063 399.3,1072.1 404.5,1081.9C409.7,1091.7 411.2,1104.5 413.7,1115C416.2,1125.5 417.8,1133.5 419.3,1144.6C420.9,1155.7 422.4,1169.2 423,1181.5C423.6,1193.8 421.2,1206.8 423,1218.5C424.8,1230.2 429.7,1242.5 434,1251.7C438.3,1260.9 444.5,1265.9 448.8,1273.9C453.1,1281.9 455.6,1291.1 459.9,1299.7C464.2,1308.3 469.8,1317.6 474.7,1325.6C479.6,1333.6 484.7,1341 489.4,1347.7C494.1,1354.4 500.7,1363 503,1366C427.5,1366 125.5,1366 50,1366C50,1307.7 48.5,1074.4 50,1016Z"/></clipPath>
<path d="M50,1016C51.5,957.6 50,1016.7 59.2,1015.4C68.4,1014.1 85.4,1009.9 105.4,1008C125.4,1006.1 157.7,1005.5 179.2,1004.3C200.7,1003.1 218,1001.2 234.6,1000.6C251.2,1000 266.7,999.4 279,1000.6C291.3,1001.8 298.7,1003.7 308.5,1008C318.3,1012.3 329.4,1021.2 338,1026.5C346.6,1031.8 352.6,1035.1 360,1040C367.4,1044.9 374.9,1049 382.3,1056C389.7,1063 399.3,1072.1 404.5,1081.9C409.7,1091.7 411.2,1104.5 413.7,1115C416.2,1125.5 417.8,1133.5 419.3,1144.6C420.9,1155.7 422.4,1169.2 423,1181.5C423.6,1193.8 421.2,1206.8 423,1218.5C424.8,1230.2 429.7,1242.5 434,1251.7C438.3,1260.9 444.5,1265.9 448.8,1273.9C453.1,1281.9 455.6,1291.1 459.9,1299.7C464.2,1308.3 469.8,1317.6 474.7,1325.6C479.6,1333.6 484.7,1341 489.4,1347.7C494.1,1354.4 500.7,1363 503,1366C427.5,1366 125.5,1366 50,1366C50,1307.7 48.5,1074.4 50,1016Z" fill="#858585"/>
<g clip-path="url(#rk3)">
<ellipse cx="380" cy="1130" rx="40" ry="90" fill="#939393" opacity=".8" filter="url(#b14)"/>
<ellipse cx="300" cy="1030" rx="90" ry="25" fill="#909090" opacity=".7" filter="url(#b8)"/>
<path d="M60,1290 C150,1250 260,1260 330,1300 C380,1330 420,1350 480,1366 L60,1366Z" fill="#7e7e7e" opacity=".8" filter="url(#b14)"/>
<path d="M60,1180 C90,1200 110,1240 120,1290 L60,1300Z" fill="#7f7f7f" opacity=".6" filter="url(#b14)"/>
<path d="M420,1255 C440,1290 460,1320 490,1350 L450,1350 C430,1320 420,1290 420,1255Z" fill="#8f8f8f" opacity=".8" filter="url(#b4)"/>
<rect x="55" y="990" width="460" height="380" filter="url(#noise)" opacity=".15"/>
<rect x="55" y="990" width="460" height="380" filter="url(#noiseD)" opacity=".04"/>
</g>
<path d="M50,1016C51.5,957.6 50,1016.7 59.2,1015.4C68.4,1014.1 85.4,1009.9 105.4,1008C125.4,1006.1 157.7,1005.5 179.2,1004.3C200.7,1003.1 218,1001.2 234.6,1000.6C251.2,1000 266.7,999.4 279,1000.6C291.3,1001.8 298.7,1003.7 308.5,1008C318.3,1012.3 329.4,1021.2 338,1026.5C346.6,1031.8 352.6,1035.1 360,1040C367.4,1044.9 374.9,1049 382.3,1056C389.7,1063 399.3,1072.1 404.5,1081.9C409.7,1091.7 411.2,1104.5 413.7,1115C416.2,1125.5 417.8,1133.5 419.3,1144.6C420.9,1155.7 422.4,1169.2 423,1181.5C423.6,1193.8 421.2,1206.8 423,1218.5C424.8,1230.2 429.7,1242.5 434,1251.7C438.3,1260.9 444.5,1265.9 448.8,1273.9C453.1,1281.9 455.6,1291.1 459.9,1299.7C464.2,1308.3 469.8,1317.6 474.7,1325.6C479.6,1333.6 484.7,1341 489.4,1347.7C494.1,1354.4 500.7,1363 503,1366C427.5,1366 125.5,1366 50,1366C50,1307.7 48.5,1074.4 50,1016Z" fill="none" stroke="#474747" stroke-width="2"/>
<ellipse cx="223.5" cy="1131.5" rx="113" ry="96" transform="rotate(40 223.5 1131.5)" fill="#474747"/>
<ellipse cx="222.5" cy="1130.5" rx="107" ry="90" transform="rotate(40 222.5 1130.5)" fill="#d9d9da"/>
<ellipse cx="222.5" cy="1130.5" rx="103.5" ry="86.5" transform="rotate(40 222.5 1130.5)" fill="none" stroke="#f2f2f2" stroke-width="3"/>
<path d="M120,1090 l9,3 l-2,7 l-9,-3Z M268,1219 l-2,8 l8,2 l2,-8Z" fill="#6a6a6a"/>
<ellipse cx="219.5" cy="1135.5" rx="93" ry="77" transform="rotate(37 219.5 1135.5)" fill="#a9a9aa"/>
<g transform="translate(219.5 1135.5) rotate(37) scale(0.905 0.745) rotate(-37)">
<circle r="100" fill="#8b8b8c"/>
<path d="M46.9,2.2L88.9,4.2L87,19L45.9,10Z" fill="#535353"/>
<path d="M44.8,14.3L84.8,27.1L79.1,40.8L41.8,21.6Z" fill="#575757"/>
<path d="M39.6,25.4L74.9,48.1L65.8,59.9L34.8,31.6Z" fill="#5c5c5c"/>
<path d="M31.6,34.8L59.9,65.8L48.1,74.9L25.4,39.6Z" fill="#616161"/>
<path d="M21.6,41.8L40.8,79.1L27.1,84.8L14.3,44.8Z" fill="#676767"/>
<path d="M10,45.9L19,87L4.2,88.9L2.2,46.9Z" fill="#6c6c6c"/>
<path d="M-2.2,46.9L-4.2,88.9L-19,87L-10,45.9Z" fill="#717171"/>
<path d="M-14.3,44.8L-27.1,84.8L-40.8,79.1L-21.6,41.8Z" fill="#757575"/>
<path d="M-25.4,39.6L-48.1,74.9L-59.9,65.8L-31.6,34.8Z" fill="#777777"/>
<path d="M-34.8,31.6L-65.8,59.9L-74.9,48.1L-39.6,25.4Z" fill="#747474"/>
<path d="M-41.8,21.6L-79.1,40.8L-84.8,27.1L-44.8,14.3Z" fill="#707070"/>
<path d="M-45.9,10L-87,19L-88.9,4.2L-46.9,2.2Z" fill="#6b6b6b"/>
<path d="M-46.9,-2.2L-88.9,-4.2L-87,-19L-45.9,-10Z" fill="#656565"/>
<path d="M-44.8,-14.3L-84.8,-27.1L-79.1,-40.8L-41.8,-21.6Z" fill="#606060"/>
<path d="M-39.6,-25.4L-74.9,-48.1L-65.8,-59.9L-34.8,-31.6Z" fill="#5a5a5a"/>
<path d="M-31.6,-34.8L-59.9,-65.8L-48.1,-74.9L-25.4,-39.6Z" fill="#555555"/>
<path d="M-21.6,-41.8L-40.8,-79.1L-27.1,-84.8L-14.3,-44.8Z" fill="#515151"/>
<path d="M-10,-45.9L-19,-87L-4.2,-88.9L-2.2,-46.9Z" fill="#4e4e4e"/>
<path d="M2.2,-46.9L4.2,-88.9L19,-87L10,-45.9Z" fill="#4b4b4b"/>
<path d="M14.3,-44.8L27.1,-84.8L40.8,-79.1L21.6,-41.8Z" fill="#4a4a4a"/>
<path d="M25.4,-39.6L48.1,-74.9L59.9,-65.8L31.6,-34.8Z" fill="#4a4a4a"/>
<path d="M34.8,-31.6L65.8,-59.9L74.9,-48.1L39.6,-25.4Z" fill="#4a4a4a"/>
<path d="M41.8,-21.6L79.1,-40.8L84.8,-27.1L44.8,-14.3Z" fill="#4c4c4c"/>
<path d="M45.9,-10L87,-19L88.9,-4.2L46.9,-2.2Z" fill="#4f4f4f"/>
<line x1="43" y1="0" x2="92" y2="0" stroke="#a1a1a2" stroke-width="5"/>
<line x1="41.5" y1="11.1" x2="88.9" y2="23.8" stroke="#a1a1a2" stroke-width="5"/>
<line x1="37.2" y1="21.5" x2="79.7" y2="46" stroke="#a1a1a2" stroke-width="5"/>
<line x1="30.4" y1="30.4" x2="65.1" y2="65.1" stroke="#a1a1a2" stroke-width="5"/>
<line x1="21.5" y1="37.2" x2="46" y2="79.7" stroke="#a1a1a2" stroke-width="5"/>
<line x1="11.1" y1="41.5" x2="23.8" y2="88.9" stroke="#a1a1a2" stroke-width="5"/>
<line x1="0" y1="43" x2="0" y2="92" stroke="#a1a1a2" stroke-width="5"/>
<line x1="-11.1" y1="41.5" x2="-23.8" y2="88.9" stroke="#a1a1a2" stroke-width="5"/>
<line x1="-21.5" y1="37.2" x2="-46" y2="79.7" stroke="#a1a1a2" stroke-width="5"/>
<line x1="-30.4" y1="30.4" x2="-65.1" y2="65.1" stroke="#a1a1a2" stroke-width="5"/>
<line x1="-37.2" y1="21.5" x2="-79.7" y2="46" stroke="#a1a1a2" stroke-width="5"/>
<line x1="-41.5" y1="11.1" x2="-88.9" y2="23.8" stroke="#a1a1a2" stroke-width="5"/>
<line x1="-43" y1="0" x2="-92" y2="0" stroke="#a1a1a2" stroke-width="5"/>
<line x1="-41.5" y1="-11.1" x2="-88.9" y2="-23.8" stroke="#a1a1a2" stroke-width="5"/>
<line x1="-37.2" y1="-21.5" x2="-79.7" y2="-46" stroke="#a1a1a2" stroke-width="5"/>
<line x1="-30.4" y1="-30.4" x2="-65.1" y2="-65.1" stroke="#a1a1a2" stroke-width="5"/>
<line x1="-21.5" y1="-37.2" x2="-46" y2="-79.7" stroke="#a1a1a2" stroke-width="5"/>
<line x1="-11.1" y1="-41.5" x2="-23.8" y2="-88.9" stroke="#a1a1a2" stroke-width="5"/>
<line x1="-0" y1="-43" x2="-0" y2="-92" stroke="#a1a1a2" stroke-width="5"/>
<line x1="11.1" y1="-41.5" x2="23.8" y2="-88.9" stroke="#a1a1a2" stroke-width="5"/>
<line x1="21.5" y1="-37.2" x2="46" y2="-79.7" stroke="#a1a1a2" stroke-width="5"/>
<line x1="30.4" y1="-30.4" x2="65.1" y2="-65.1" stroke="#a1a1a2" stroke-width="5"/>
<line x1="37.2" y1="-21.5" x2="79.7" y2="-46" stroke="#a1a1a2" stroke-width="5"/>
<line x1="41.5" y1="-11.1" x2="88.9" y2="-23.8" stroke="#a1a1a2" stroke-width="5"/>
<circle r="93" fill="none" stroke="#9a9a9b" stroke-width="7"/>
<circle r="43" fill="#d9d9da"/>
<circle r="32" cx="-3" cy="-3" fill="#f4f4f4" opacity=".85" filter="url(#b4)"/>
<line x1="0" y1="0" x2="43.7" y2="5.3" stroke="#9b9b9c" stroke-width="4"/>
<line x1="0" y1="0" x2="35.2" y2="26.4" stroke="#9b9b9c" stroke-width="4"/>
<line x1="0" y1="0" x2="17.3" y2="40.5" stroke="#9b9b9c" stroke-width="4"/>
<line x1="0" y1="0" x2="-5.3" y2="43.7" stroke="#9b9b9c" stroke-width="4"/>
<line x1="0" y1="0" x2="-26.4" y2="35.2" stroke="#9b9b9c" stroke-width="4"/>
<line x1="0" y1="0" x2="-40.5" y2="17.3" stroke="#9b9b9c" stroke-width="4"/>
<line x1="0" y1="0" x2="-43.7" y2="-5.3" stroke="#9b9b9c" stroke-width="4"/>
<line x1="0" y1="0" x2="-35.2" y2="-26.4" stroke="#9b9b9c" stroke-width="4"/>
<line x1="0" y1="0" x2="-17.3" y2="-40.5" stroke="#9b9b9c" stroke-width="4"/>
<line x1="0" y1="0" x2="5.3" y2="-43.7" stroke="#9b9b9c" stroke-width="4"/>
<line x1="0" y1="0" x2="26.4" y2="-35.2" stroke="#9b9b9c" stroke-width="4"/>
<line x1="0" y1="0" x2="40.5" y2="-17.3" stroke="#9b9b9c" stroke-width="4"/>
<circle r="44" fill="none" stroke="#9c9c9d" stroke-width="5.5"/>
<circle r="9" fill="#a9a9aa" stroke="#8a8a8b" stroke-width="2.5"/><circle r="3.5" fill="#c9c9ca"/>
<path d="M-95,10 A96,96 0 0 0 40,88 C10,60 -30,30 -95,10Z" fill="#a7a7a8" opacity=".55" filter="url(#b8)"/>
</g>
<path d="M340.9,1010.4C328.6,1008.3 331.1,1004 326.2,999.4C321.3,994.8 314.5,988.3 311.4,982.8C308.3,977.2 309.8,971 307.7,966.1C305.6,961.2 301,957.8 298.5,953.2C296,948.6 292.9,943.1 292.9,938.5C292.9,933.9 298,930.1 298.5,925.5C299,920.9 295.9,915.7 295.7,910.8C295.5,905.9 295.5,900 297.5,896C299.5,892 305.4,890.5 307.7,886.8C310,883.1 308.9,878.1 311.4,873.8C313.9,869.5 320,864 322.5,860.9C325,857.8 323.1,856.9 326.2,855.4C329.3,853.9 336.3,854.5 340.9,851.7C345.5,848.9 350.4,841.9 353.8,838.8C357.2,835.7 357.5,834 361.2,833.2C364.9,832.4 371.1,834.8 376,834.2C380.9,833.6 387.1,830.6 390.8,829.5C394.5,828.4 395.7,828.8 398.1,827.7C400.6,826.6 403,823.1 405.5,823.1C408,823.1 406.1,826 412.9,827.7C419.7,829.4 436,829.8 446.1,833.2C456.2,836.6 466.5,841.9 473.8,848C481.1,854.1 484.8,861.3 490,870C495.2,878.7 502.5,888.3 505,900C507.5,911.7 510,925 505,940C500,955 492.5,978 475,990C457.5,1002 422.4,1008.6 400,1012C377.6,1015.4 353.2,1012.5 340.9,1010.4Z" fill="#b5b6b8" stroke="#4b4b4b" stroke-width="2.2" stroke-linejoin="round"/>
<ellipse cx="304.5" cy="899" rx="5" ry="4" fill="#d3d4d6"/>
<ellipse cx="302.5" cy="938.5" rx="5" ry="4" fill="#d3d4d6"/>
<ellipse cx="320.5" cy="978" rx="5" ry="4" fill="#d3d4d6"/>
<ellipse cx="332" cy="862" rx="5" ry="4" fill="#d3d4d6"/>
<ellipse cx="369" cy="840" rx="5" ry="4" fill="#d3d4d6"/>
<path d="M409.2,836C420,836.3 435.5,838.3 448,842C460.5,845.7 476,850.3 484,858C492,865.7 493.7,877.7 496,888C498.3,898.3 499,909.7 498,920C497,930.3 494.3,940.8 490,950C485.7,959.2 479.3,968.7 472,975C464.7,981.3 456.6,985 446.1,988C435.6,991 420,991.2 409.2,993C398.4,994.8 390,997.3 381.5,999C373,1000.7 364.8,1004.5 358,1003C351.2,1001.5 346.5,995.5 341,990C335.5,984.5 329.4,977.3 325,970C320.6,962.7 316.8,954.3 314.5,946C312.2,937.7 311.2,928.8 311.5,920C311.8,911.2 313.3,901.3 316.5,893C319.7,884.7 324.1,877 330.5,870C336.9,863 346.2,856 355,851C363.8,846 374,842.5 383,840C392,837.5 398.4,835.7 409.2,836Z" fill="#d4d5d7"/>
<path d="M409.2,840.5C419.7,840.8 435.9,842.9 448,846.5C460.1,850.1 474.6,854.8 482,862C489.4,869.2 490.3,880.3 492.5,890C494.7,899.7 495.8,910.2 495,920C494.2,929.8 491.7,940.2 487.5,949C483.3,957.8 476.9,967 470,973C463.1,979 456.2,982.1 446.1,985C436,987.9 420,988.7 409.2,990.5C398.4,992.3 389.7,994.4 381.5,996C373.3,997.6 366.2,1001.3 360,1000C353.8,998.7 349.7,993.2 344.5,988C339.3,982.8 333.2,975.7 329,968.5C324.8,961.3 321.2,953.1 319,945C316.8,936.9 315.7,928.4 316,920C316.3,911.6 317.9,902.4 321,894.5C324.1,886.6 328.3,879.1 334.5,872.5C340.7,865.9 349.6,859.7 358,855C366.4,850.3 376.5,846.9 385,844.5C393.5,842.1 398.7,840.2 409.2,840.5Z" fill="#6f7072"/>
<path d="M409.2,853.5C419,854.1 434.4,855.7 446.1,859.1C457.8,862.5 472.6,868.3 479.4,873.8C486.2,879.3 485,884.6 486.8,892.3C488.6,900 491,910.8 490.4,920C489.8,929.2 486.8,939.4 483.1,947.7C479.4,956 474.5,964.3 468.3,969.8C462.1,975.3 456,978.1 446.1,980.9C436.2,983.7 420,984.5 409.2,986.4C398.4,988.2 389.2,990.5 381.5,992C373.8,993.5 368.3,996.9 363.1,995.7C357.9,994.5 354.7,989.5 350.1,984.6C345.5,979.7 339.4,972.9 335.4,966.1C331.4,959.3 328.2,951.7 326.2,944C324.2,936.3 323.1,928 323.4,920C323.7,912 325.1,903.1 328,896C330.9,888.9 335,883 340.9,877.5C346.8,872 355.4,866.5 363.1,862.8C370.8,859.1 379.4,856.9 387.1,855.4C394.8,853.9 399.4,852.9 409.2,853.5Z" fill="#ffffff" stroke="#4f4f4f" stroke-width="1.6"/>
<defs><linearGradient id="ag6" gradientUnits="userSpaceOnUse" x1="289" y1="946" x2="252" y2="981"><stop offset="0" stop-color="#1b1b1b" stop-opacity="0"/><stop offset="1" stop-color="#1b1b1b"/></linearGradient><linearGradient id="ag7" gradientUnits="userSpaceOnUse" x1="418" y1="1066" x2="380" y2="1101"><stop offset="0" stop-color="#1b1b1b" stop-opacity="0"/><stop offset="1" stop-color="#1b1b1b"/></linearGradient></defs>
<path d="M288.3,945.3L232,987.8L214.6,978.1L219.4,1012.2L253.2,1018.7L244.4,1000.8L289.7,946.7Z" fill="url(#ag6)"/>
<path d="M417.3,1065.3L358.7,1108.7L341.4,1098.9L345.8,1133L379.5,1139.9L371,1121.9L418.7,1066.7Z" fill="url(#ag7)"/>
</g>
<!-- panel4 -->
<g clip-path="url(#cp4)">
<clipPath id="rk4"><path d="M650,1029C651.6,971.8 654,1026.7 659.8,1022.8C665.5,1018.9 673.8,1012.5 684.5,1005.5C695.2,998.5 710.7,988.8 723.8,981C736.9,973.2 751.7,966.6 763.2,958.8C774.7,951 783.8,941 792.8,934C801.8,927 806.7,921.1 817.4,917C828.1,912.9 839.6,912 856.8,909.5C874,907 897.8,903.6 920.8,902C943.8,900.4 974.1,899.9 994.6,899.7C1015.1,899.5 1029,900.3 1043.8,900.7C1058.6,901.1 1076.6,901.8 1083.2,902C1088.1,905.3 1102.1,913.6 1112.8,921.8C1123.5,930 1135.7,941.1 1147.2,951.4C1158.7,961.7 1173.9,974.8 1181.7,983.4C1189.5,992 1190.3,994 1194,1003C1197.7,1012 1201.3,1023.5 1203.8,1037.5C1206.3,1051.5 1207.6,1070.4 1208.8,1086.8C1210,1103.2 1209.2,1122 1211.2,1136C1213.2,1150 1215.2,1159 1221,1170.5C1226.8,1182 1239.1,1194.3 1245.7,1205C1252.3,1215.7 1255.6,1223.7 1260.5,1234.5C1265.4,1245.3 1272.6,1264.1 1275,1270C1275,1286 1275,1350 1275,1366C1170.8,1366 754.2,1366 650,1366C650,1309.8 648.4,1086.2 650,1029Z"/></clipPath>
<path d="M650,1029C651.6,971.8 654,1026.7 659.8,1022.8C665.5,1018.9 673.8,1012.5 684.5,1005.5C695.2,998.5 710.7,988.8 723.8,981C736.9,973.2 751.7,966.6 763.2,958.8C774.7,951 783.8,941 792.8,934C801.8,927 806.7,921.1 817.4,917C828.1,912.9 839.6,912 856.8,909.5C874,907 897.8,903.6 920.8,902C943.8,900.4 974.1,899.9 994.6,899.7C1015.1,899.5 1029,900.3 1043.8,900.7C1058.6,901.1 1076.6,901.8 1083.2,902C1088.1,905.3 1102.1,913.6 1112.8,921.8C1123.5,930 1135.7,941.1 1147.2,951.4C1158.7,961.7 1173.9,974.8 1181.7,983.4C1189.5,992 1190.3,994 1194,1003C1197.7,1012 1201.3,1023.5 1203.8,1037.5C1206.3,1051.5 1207.6,1070.4 1208.8,1086.8C1210,1103.2 1209.2,1122 1211.2,1136C1213.2,1150 1215.2,1159 1221,1170.5C1226.8,1182 1239.1,1194.3 1245.7,1205C1252.3,1215.7 1255.6,1223.7 1260.5,1234.5C1265.4,1245.3 1272.6,1264.1 1275,1270C1275,1286 1275,1350 1275,1366C1170.8,1366 754.2,1366 650,1366C650,1309.8 648.4,1086.2 650,1029Z" fill="#888888"/>
<g clip-path="url(#rk4)">
<path d="M815,1082 C822,1100 834,1125 850,1150 C856,1160 862,1168 868,1174 C852,1166 836,1150 826,1128 C819,1112 815,1098 815,1082Z" fill="#727272" opacity=".85" filter="url(#b2)"/>
<path d="M995,1236 C1040,1226 1090,1236 1125,1258 C1150,1276 1168,1300 1180,1330 L1150,1340 C1138,1312 1118,1290 1094,1276 C1064,1262 1030,1258 998,1262Z" fill="#767676" opacity=".85" filter="url(#b4)"/>
<path d="M817,1284 C836,1304 858,1330 884,1362 L850,1364 C838,1338 826,1312 817,1284Z" fill="#767676" opacity=".8" filter="url(#b4)"/>
<path d="M700,1040 C740,1060 780,1090 800,1130 C770,1110 730,1080 700,1060Z" fill="#7b7b7b" opacity=".6" filter="url(#b4)"/>
<ellipse cx="1150" cy="1010" rx="50" ry="70" fill="#939393" opacity=".8" filter="url(#b14)"/>
<ellipse cx="760" cy="1000" rx="60" ry="30" fill="#919191" opacity=".7" filter="url(#b14)"/>
<rect x="655" y="890" width="620" height="480" filter="url(#noise)" opacity=".15"/>
<rect x="655" y="890" width="620" height="480" filter="url(#noiseD)" opacity=".04"/>
</g>
<path d="M650,1029C651.6,971.8 654,1026.7 659.8,1022.8C665.5,1018.9 673.8,1012.5 684.5,1005.5C695.2,998.5 710.7,988.8 723.8,981C736.9,973.2 751.7,966.6 763.2,958.8C774.7,951 783.8,941 792.8,934C801.8,927 806.7,921.1 817.4,917C828.1,912.9 839.6,912 856.8,909.5C874,907 897.8,903.6 920.8,902C943.8,900.4 974.1,899.9 994.6,899.7C1015.1,899.5 1029,900.3 1043.8,900.7C1058.6,901.1 1076.6,901.8 1083.2,902C1088.1,905.3 1102.1,913.6 1112.8,921.8C1123.5,930 1135.7,941.1 1147.2,951.4C1158.7,961.7 1173.9,974.8 1181.7,983.4C1189.5,992 1190.3,994 1194,1003C1197.7,1012 1201.3,1023.5 1203.8,1037.5C1206.3,1051.5 1207.6,1070.4 1208.8,1086.8C1210,1103.2 1209.2,1122 1211.2,1136C1213.2,1150 1215.2,1159 1221,1170.5C1226.8,1182 1239.1,1194.3 1245.7,1205C1252.3,1215.7 1255.6,1223.7 1260.5,1234.5C1265.4,1245.3 1272.6,1264.1 1275,1270C1275,1286 1275,1350 1275,1366C1170.8,1366 754.2,1366 650,1366C650,1309.8 648.4,1086.2 650,1029Z" fill="none" stroke="#474747" stroke-width="2"/>
<ellipse cx="991" cy="1053.5" rx="141" ry="127" transform="rotate(38 991 1051.5)" fill="#6f6f6f" opacity=".55" filter="url(#b2)"/>
<ellipse cx="991" cy="1051.5" rx="136" ry="122.5" transform="rotate(38 991 1051.5)" fill="#d1d1d2" stroke="#707071" stroke-width="2"/>
<ellipse cx="906.3" cy="944.5" rx="9" ry="7" transform="rotate(-128.4 906.3 944.5)" fill="#a2a2a4" stroke="#77777a" stroke-width="1.8"/>
<ellipse cx="876.2" cy="981" rx="11" ry="8.5" transform="rotate(-148.4 876.2 981)" fill="#a2a2a4" stroke="#77777a" stroke-width="1.8"/>
<ellipse cx="868.4" cy="1025.5" rx="12" ry="9.5" transform="rotate(-168 868.4 1025.5)" fill="#a2a2a4" stroke="#77777a" stroke-width="1.8"/>
<ellipse cx="882.8" cy="1077.8" rx="13" ry="10.5" transform="rotate(166.3 882.8 1077.8)" fill="#a2a2a4" stroke="#77777a" stroke-width="1.8"/>
<ellipse cx="912.8" cy="1117" rx="13" ry="10.5" transform="rotate(140.1 912.8 1117)" fill="#a2a2a4" stroke="#77777a" stroke-width="1.8"/>
<ellipse cx="962.5" cy="1151" rx="13" ry="10.5" transform="rotate(106 962.5 1151)" fill="#a2a2a4" stroke="#77777a" stroke-width="1.8"/>
<ellipse cx="1014.8" cy="1161.5" rx="13" ry="10" transform="rotate(77.8 1014.8 1161.5)" fill="#a2a2a4" stroke="#77777a" stroke-width="1.8"/>
<ellipse cx="1062" cy="1151" rx="12" ry="9.5" transform="rotate(54.5 1062 1151)" fill="#a2a2a4" stroke="#77777a" stroke-width="1.8"/>
<ellipse cx="1094.6" cy="1127.5" rx="11" ry="8.5" transform="rotate(36.3 1094.6 1127.5)" fill="#a2a2a4" stroke="#77777a" stroke-width="1.8"/>
<ellipse cx="1115.5" cy="1088.3" rx="9" ry="7" transform="rotate(16.5 1115.5 1088.3)" fill="#a2a2a4" stroke="#77777a" stroke-width="1.8"/>
<ellipse cx="1120.8" cy="1046.5" rx="8" ry="6" transform="rotate(-2.2 1120.8 1046.5)" fill="#a2a2a4" stroke="#77777a" stroke-width="1.8"/>
<ellipse cx="1105" cy="1002" rx="7" ry="5.5" transform="rotate(-23.5 1105 1002)" fill="#a2a2a4" stroke="#77777a" stroke-width="1.8"/>
<ellipse cx="945.5" cy="926" rx="8" ry="5.5" transform="rotate(-109.9 945.5 926)" fill="#a2a2a4" stroke="#77777a" stroke-width="1.8"/>
<ellipse cx="990" cy="921" rx="8" ry="5" transform="rotate(-90.4 990 921)" fill="#a2a2a4" stroke="#77777a" stroke-width="1.8"/>
<ellipse cx="1042.3" cy="934" rx="8" ry="5" transform="rotate(-66.4 1042.3 934)" fill="#a2a2a4" stroke="#77777a" stroke-width="1.8"/>
<ellipse cx="1081.5" cy="963" rx="7" ry="5" transform="rotate(-44.4 1081.5 963)" fill="#a2a2a4" stroke="#77777a" stroke-width="1.8"/>
<ellipse cx="996" cy="1045.5" rx="120" ry="108" transform="rotate(30 996 1045.5)" fill="#e4e4e5" stroke="#bdbdbe" stroke-width="1.5"/>
<ellipse cx="997" cy="1044.5" rx="112" ry="99" transform="rotate(30 996 1045.5)" fill="none" stroke="#d3d3d4" stroke-width="3"/>
<ellipse cx="998.5" cy="1043.8" rx="105" ry="91" transform="rotate(26 998.5 1043.8)" fill="#8d8d8e" stroke="#77777a" stroke-width="1.5"/>
<g transform="translate(997.5 1043.8) rotate(26) scale(1.020 0.880) rotate(-26)">
<circle r="100" fill="#8b8b8c"/>
<path d="M46.9,2.2L88.9,4.2L87,19L45.9,10Z" fill="#535353"/>
<path d="M44.8,14.3L84.8,27.1L79.1,40.8L41.8,21.6Z" fill="#575757"/>
<path d="M39.6,25.4L74.9,48.1L65.8,59.9L34.8,31.6Z" fill="#5c5c5c"/>
<path d="M31.6,34.8L59.9,65.8L48.1,74.9L25.4,39.6Z" fill="#616161"/>
<path d="M21.6,41.8L40.8,79.1L27.1,84.8L14.3,44.8Z" fill="#676767"/>
<path d="M10,45.9L19,87L4.2,88.9L2.2,46.9Z" fill="#6c6c6c"/>
<path d="M-2.2,46.9L-4.2,88.9L-19,87L-10,45.9Z" fill="#717171"/>
<path d="M-14.3,44.8L-27.1,84.8L-40.8,79.1L-21.6,41.8Z" fill="#757575"/>
<path d="M-25.4,39.6L-48.1,74.9L-59.9,65.8L-31.6,34.8Z" fill="#777777"/>
<path d="M-34.8,31.6L-65.8,59.9L-74.9,48.1L-39.6,25.4Z" fill="#747474"/>
<path d="M-41.8,21.6L-79.1,40.8L-84.8,27.1L-44.8,14.3Z" fill="#707070"/>
<path d="M-45.9,10L-87,19L-88.9,4.2L-46.9,2.2Z" fill="#6b6b6b"/>
<path d="M-46.9,-2.2L-88.9,-4.2L-87,-19L-45.9,-10Z" fill="#656565"/>
<path d="M-44.8,-14.3L-84.8,-27.1L-79.1,-40.8L-41.8,-21.6Z" fill="#606060"/>
<path d="M-39.6,-25.4L-74.9,-48.1L-65.8,-59.9L-34.8,-31.6Z" fill="#5a5a5a"/>
<path d="M-31.6,-34.8L-59.9,-65.8L-48.1,-74.9L-25.4,-39.6Z" fill="#555555"/>
<path d="M-21.6,-41.8L-40.8,-79.1L-27.1,-84.8L-14.3,-44.8Z" fill="#515151"/>
<path d="M-10,-45.9L-19,-87L-4.2,-88.9L-2.2,-46.9Z" fill="#4e4e4e"/>
<path d="M2.2,-46.9L4.2,-88.9L19,-87L10,-45.9Z" fill="#4b4b4b"/>
<path d="M14.3,-44.8L27.1,-84.8L40.8,-79.1L21.6,-41.8Z" fill="#4a4a4a"/>
<path d="M25.4,-39.6L48.1,-74.9L59.9,-65.8L31.6,-34.8Z" fill="#4a4a4a"/>
<path d="M34.8,-31.6L65.8,-59.9L74.9,-48.1L39.6,-25.4Z" fill="#4a4a4a"/>
<path d="M41.8,-21.6L79.1,-40.8L84.8,-27.1L44.8,-14.3Z" fill="#4c4c4c"/>
<path d="M45.9,-10L87,-19L88.9,-4.2L46.9,-2.2Z" fill="#4f4f4f"/>
<line x1="43" y1="0" x2="92" y2="0" stroke="#a1a1a2" stroke-width="5"/>
<line x1="41.5" y1="11.1" x2="88.9" y2="23.8" stroke="#a1a1a2" stroke-width="5"/>
<line x1="37.2" y1="21.5" x2="79.7" y2="46" stroke="#a1a1a2" stroke-width="5"/>
<line x1="30.4" y1="30.4" x2="65.1" y2="65.1" stroke="#a1a1a2" stroke-width="5"/>
<line x1="21.5" y1="37.2" x2="46" y2="79.7" stroke="#a1a1a2" stroke-width="5"/>
<line x1="11.1" y1="41.5" x2="23.8" y2="88.9" stroke="#a1a1a2" stroke-width="5"/>
<line x1="0" y1="43" x2="0" y2="92" stroke="#a1a1a2" stroke-width="5"/>
<line x1="-11.1" y1="41.5" x2="-23.8" y2="88.9" stroke="#a1a1a2" stroke-width="5"/>
<line x1="-21.5" y1="37.2" x2="-46" y2="79.7" stroke="#a1a1a2" stroke-width="5"/>
<line x1="-30.4" y1="30.4" x2="-65.1" y2="65.1" stroke="#a1a1a2" stroke-width="5"/>
<line x1="-37.2" y1="21.5" x2="-79.7" y2="46" stroke="#a1a1a2" stroke-width="5"/>
<line x1="-41.5" y1="11.1" x2="-88.9" y2="23.8" stroke="#a1a1a2" stroke-width="5"/>
<line x1="-43" y1="0" x2="-92" y2="0" stroke="#a1a1a2" stroke-width="5"/>
<line x1="-41.5" y1="-11.1" x2="-88.9" y2="-23.8" stroke="#a1a1a2" stroke-width="5"/>
<line x1="-37.2" y1="-21.5" x2="-79.7" y2="-46" stroke="#a1a1a2" stroke-width="5"/>
<line x1="-30.4" y1="-30.4" x2="-65.1" y2="-65.1" stroke="#a1a1a2" stroke-width="5"/>
<line x1="-21.5" y1="-37.2" x2="-46" y2="-79.7" stroke="#a1a1a2" stroke-width="5"/>
<line x1="-11.1" y1="-41.5" x2="-23.8" y2="-88.9" stroke="#a1a1a2" stroke-width="5"/>
<line x1="-0" y1="-43" x2="-0" y2="-92" stroke="#a1a1a2" stroke-width="5"/>
<line x1="11.1" y1="-41.5" x2="23.8" y2="-88.9" stroke="#a1a1a2" stroke-width="5"/>
<line x1="21.5" y1="-37.2" x2="46" y2="-79.7" stroke="#a1a1a2" stroke-width="5"/>
<line x1="30.4" y1="-30.4" x2="65.1" y2="-65.1" stroke="#a1a1a2" stroke-width="5"/>
<line x1="37.2" y1="-21.5" x2="79.7" y2="-46" stroke="#a1a1a2" stroke-width="5"/>
<line x1="41.5" y1="-11.1" x2="88.9" y2="-23.8" stroke="#a1a1a2" stroke-width="5"/>
<circle r="93" fill="none" stroke="#9a9a9b" stroke-width="7"/>
<circle r="43" fill="#d9d9da"/>
<circle r="32" cx="-3" cy="-3" fill="#f4f4f4" opacity=".85" filter="url(#b4)"/>
<line x1="0" y1="0" x2="43.7" y2="5.3" stroke="#9b9b9c" stroke-width="4"/>
<line x1="0" y1="0" x2="35.2" y2="26.4" stroke="#9b9b9c" stroke-width="4"/>
<line x1="0" y1="0" x2="17.3" y2="40.5" stroke="#9b9b9c" stroke-width="4"/>
<line x1="0" y1="0" x2="-5.3" y2="43.7" stroke="#9b9b9c" stroke-width="4"/>
<line x1="0" y1="0" x2="-26.4" y2="35.2" stroke="#9b9b9c" stroke-width="4"/>
<line x1="0" y1="0" x2="-40.5" y2="17.3" stroke="#9b9b9c" stroke-width="4"/>
<line x1="0" y1="0" x2="-43.7" y2="-5.3" stroke="#9b9b9c" stroke-width="4"/>
<line x1="0" y1="0" x2="-35.2" y2="-26.4" stroke="#9b9b9c" stroke-width="4"/>
<line x1="0" y1="0" x2="-17.3" y2="-40.5" stroke="#9b9b9c" stroke-width="4"/>
<line x1="0" y1="0" x2="5.3" y2="-43.7" stroke="#9b9b9c" stroke-width="4"/>
<line x1="0" y1="0" x2="26.4" y2="-35.2" stroke="#9b9b9c" stroke-width="4"/>
<line x1="0" y1="0" x2="40.5" y2="-17.3" stroke="#9b9b9c" stroke-width="4"/>
<circle r="44" fill="none" stroke="#9c9c9d" stroke-width="5.5"/>
<circle r="9" fill="#a9a9aa" stroke="#8a8a8b" stroke-width="2.5"/><circle r="3.5" fill="#c9c9ca"/>
<path d="M-95,10 A96,96 0 0 0 40,88 C10,60 -30,30 -95,10Z" fill="#a7a7a8" opacity=".55" filter="url(#b8)"/>
</g>
<defs><linearGradient id="ag8" gradientUnits="userSpaceOnUse" x1="843" y1="974" x2="858" y2="950"><stop offset="0" stop-color="#1b1b1b" stop-opacity="0"/><stop offset="1" stop-color="#1b1b1b"/></linearGradient><linearGradient id="ag9" gradientUnits="userSpaceOnUse" x1="1138" y1="1135" x2="1122" y2="1158"><stop offset="0" stop-color="#1b1b1b" stop-opacity="0"/><stop offset="1" stop-color="#1b1b1b"/></linearGradient></defs>
<path d="M842.1,976.2L869.4,949.7L877.4,956L882.5,921.8L850.4,934.7L858.4,941L838.9,973.8Z" fill="url(#ag8)"/>
<path d="M1138.5,1130.7L1113.1,1153.8L1105.2,1147.4L1099.5,1181.5L1131.8,1169.2L1123.9,1162.7L1141.5,1133.3Z" fill="url(#ag9)"/>
</g>
<!-- lower frame then hand3 -->
<g fill="#3c3c3c">
<rect x="58.5" y="811.5" width="1210.5" height="2.2"/>
<rect x="58.5" y="1358.5" width="1210.5" height="3"/>
<rect x="58.5" y="811.5" width="3" height="550"/>
<rect x="1266" y="811.5" width="3" height="550"/>
</g><clipPath id="cp3h"><rect x="60" y="786" width="600" height="574"/></clipPath>
<g clip-path="url(#cp3h)">
<path d="M409.5,822.8C410.8,820.1 413.1,813.3 417,806.8C420.9,800.3 430.3,787.8 433,784C454.9,784 542.7,784 564.6,784C569.5,786.8 585.4,794.4 594,800.6C602.6,806.9 604,811.6 616.3,821.5C628.6,831.4 659.4,853.6 668,860C668,904 668,1080 668,1124C661.8,1121.6 646.8,1115.1 630.8,1109.8C614.8,1104.5 591.8,1097.6 572.3,1092.3C552.8,1087 533.3,1082.6 513.8,1077.7C494.3,1072.8 471.9,1066.5 455.4,1063C438.8,1059.5 427.2,1058.5 414.5,1057C401.8,1055.5 390.1,1056.7 379.4,1054.3C368.6,1051.9 356.8,1047 350,1042.6C343.2,1038.2 340.8,1031.9 338.5,1028C336.2,1024.1 335.3,1021.9 336,1019C336.7,1016.1 339.8,1013.5 342.8,1010.5C345.8,1007.5 350.4,1003.5 353.8,1001.2C357.2,998.9 358.5,998.1 363.1,996.6C367.7,995.1 373.8,993.7 381.5,992C389.2,990.3 398.4,988.2 409.2,986.4C420,984.5 436.2,983.7 446.1,980.9C456,978.1 462.1,975.3 468.3,969.8C474.5,964.3 479.4,956 483.1,947.7C486.8,939.4 489.6,928.8 490.4,920C491.2,911.2 489.1,903 488,895C486.9,887 485,878.7 483.5,872C482,865.3 482.7,860.3 479,855C475.3,849.7 467.7,843.8 461.2,840C454.7,836.2 446.9,834.4 440,832.5C433.1,830.6 425.1,830.1 420,828.5C414.9,826.9 411.2,823.8 409.5,822.8Z" fill="#dfe1e4" stroke="#4b4b4b" stroke-width="2.2" stroke-linejoin="round"/>
<clipPath id="h3c"><path d="M409.5,822.8C410.8,820.1 413.1,813.3 417,806.8C420.9,800.3 430.3,787.8 433,784C454.9,784 542.7,784 564.6,784C569.5,786.8 585.4,794.4 594,800.6C602.6,806.9 604,811.6 616.3,821.5C628.6,831.4 659.4,853.6 668,860C668,904 668,1080 668,1124C661.8,1121.6 646.8,1115.1 630.8,1109.8C614.8,1104.5 591.8,1097.6 572.3,1092.3C552.8,1087 533.3,1082.6 513.8,1077.7C494.3,1072.8 471.9,1066.5 455.4,1063C438.8,1059.5 427.2,1058.5 414.5,1057C401.8,1055.5 390.1,1056.7 379.4,1054.3C368.6,1051.9 356.8,1047 350,1042.6C343.2,1038.2 340.8,1031.9 338.5,1028C336.2,1024.1 335.3,1021.9 336,1019C336.7,1016.1 339.8,1013.5 342.8,1010.5C345.8,1007.5 350.4,1003.5 353.8,1001.2C357.2,998.9 358.5,998.1 363.1,996.6C367.7,995.1 373.8,993.7 381.5,992C389.2,990.3 398.4,988.2 409.2,986.4C420,984.5 436.2,983.7 446.1,980.9C456,978.1 462.1,975.3 468.3,969.8C474.5,964.3 479.4,956 483.1,947.7C486.8,939.4 489.6,928.8 490.4,920C491.2,911.2 489.1,903 488,895C486.9,887 485,878.7 483.5,872C482,865.3 482.7,860.3 479,855C475.3,849.7 467.7,843.8 461.2,840C454.7,836.2 446.9,834.4 440,832.5C433.1,830.6 425.1,830.1 420,828.5C414.9,826.9 411.2,823.8 409.5,822.8Z"/></clipPath>
<g clip-path="url(#h3c)"><path d="M430,812C435,809.6 457.5,811.7 470,818C482.5,824.3 495.8,836.3 505,850C514.2,863.7 521.7,883.3 525,900C528.3,916.7 528.3,935 525,950C521.7,965 514.2,979.2 505,990C495.8,1000.8 482.5,1008.3 470,1015C457.5,1021.7 441.7,1026.7 430,1030C418.3,1033.3 408.1,1041.3 400,1035C391.9,1028.7 380,1000.1 381.5,992C383,983.9 398.4,988.2 409.2,986.4C420,984.5 436.2,983.7 446.1,980.9C456,978.1 462.1,975.3 468.3,969.8C474.5,964.3 479.4,956 483.1,947.7C486.8,939.4 489.6,928.8 490.4,920C491.2,911.2 489.1,903 488,895C486.9,887 485,878.7 483.5,872C482,865.3 482.7,860.3 479,855C475.3,849.7 467.7,843.8 461.2,840C454.7,836.2 445.2,837.2 440,832.5C434.8,827.8 425,814.4 430,812Z" fill="#cdcfd3" opacity=".85" filter="url(#b2)"/>
<path d="M338,1026 C345,1012 360,1004 380,998 L392,1040 C370,1048 350,1042 338,1026Z" fill="#eceded" opacity=".8" filter="url(#b2)"/>
<path d="M455,1060 C520,1070 600,1090 668,1120 L668,1135 L455,1075Z" fill="#c9cbcf" opacity=".7" filter="url(#b4)"/>
</g>
<path d="M424,806 C428,814 434,822 441,826 M441,796 C444,808 450,820 458,830 M384,1002 C386,1016 392,1032 398,1044 M396,998 C398,1012 403,1028 409,1040 M373,1010 C374,1020 378,1032 384,1040" fill="none" stroke="#8e9094" stroke-width="1.8" stroke-linecap="round"/>
</g>
<!-- frames -->
<g fill="#3c3c3c">
<rect x="58.5" y="126.5" width="1210.5" height="3"/>
<rect x="58.5" y="783" width="1210.5" height="3"/>
<rect x="58.5" y="126.5" width="3" height="659.5"/>
<rect x="1266" y="126.5" width="3" height="659.5"/>
<rect x="659.5" y="126.5" width="3" height="659.5"/>
<rect x="659.5" y="811.5" width="3" height="550"/>
</g>
<!-- panel1 top -->
<g clip-path="url(#cp1)">
<path d="M112,784C112.4,781.8 112.2,782.3 114.5,779C116.8,775.7 121.4,767.8 126,764C130.6,760.2 135.6,757.6 142,756C148.4,754.4 157.9,754.1 164.6,754.6C171.3,755.1 176.6,756.9 182,759C187.4,761.1 191,765.8 197,767C203,768.2 211,766.7 218,766C225,765.3 231.8,765.1 239,762.7C246.2,760.3 256,755.2 261.5,751.4C267,747.6 268.8,743.2 272,740C275.2,736.8 277.3,734.5 281,732C284.7,729.5 289.2,726.6 294,725C298.8,723.4 301.9,722.8 310,722.3C318.1,721.8 331.5,720.9 342.3,722.3C353.1,723.6 365.5,727.2 374.6,730.4C383.8,733.6 392.1,736.9 397.2,741.7C402.3,746.5 403.8,754 405.3,759C406.8,764 406.9,766.8 406,772C405.1,777.2 426,786.7 400,790C374,793.3 298,791.7 250,792C202,792.3 135,793.3 112,792C89,790.7 111.6,786.2 112,784Z" fill="#1b1b1b"/>
<path d="M147,768 C158,763 172,764 186,770 C172,770 160,771 147,768Z" fill="#f4f4f4"/>
<path d="M134,778 C150,774 170,775 190,779 C170,781 150,782 134,778Z" fill="#e8e8e8"/>
<path d="M325,752 C333,746 343,744 353,747 C346,752 336,755 325,752Z" fill="#f4f4f4"/>
<path d="M322,768 C332,763 345,761 357,764 C354,772 346,777 330,778 C326,775 323,772 322,768Z" fill="#f4f4f4"/>
<path d="M374,744 C382,748 388,758 391,772 L385,773 C383,760 379,751 374,744Z" fill="#f4f4f4"/>
<path d="M363,748 C369,754 372,764 372,776 L368,776 C368,764 366,755 363,748Z" fill="#bdbdbd"/>
<path d="M262,762 C270,742 290,730 315,728 C345,727 372,738 392,756 M236,776 C262,772 285,760 300,748 M282,782 C300,776 315,770 326,760" fill="none" stroke="#555" stroke-width="1.4"/>
<path d="M398,777 C408,768 416,762 426,756" fill="none" stroke="#1b1b1b" stroke-width="6"/>
<g transform="translate(437,749.5) rotate(-33)"><rect x="-16" y="-6" width="34" height="12" rx="2" fill="#1b1b1b"/><path d="M-9,-8v16M-2,-8.5v17M5,-9v18M12,-9.5v19" stroke="#1b1b1b" stroke-width="4.2" stroke-linecap="round"/><rect x="17" y="-11" width="50" height="22" rx="3" fill="#1b1b1b"/><path d="M67,-5h9M67,5h9" stroke="#2a2a2a" stroke-width="3"/><path d="M70,-5h6M70,5h6" stroke="#999" stroke-width="1.4"/></g>
</g>
<path d="M540.2,104.5L542.8,106.2L545.2,111.2L547.7,112.8L550.1,113L552.6,113.3L555.1,113.6L557.6,114L560,114.5L562.4,115L564.9,115.5L567.3,116.2L569.7,116.9L572,117.6L574.9,117.1L579,113.4L582.1,112.8L583.9,115.4L584.2,121L585.8,123.3L588,124.5L590.2,125.7L592.4,126.9L594.5,128.2L596.6,129.6L598.6,131L600.7,132.5L602.6,134L604.6,135.5L606.5,137.1L609.3,137.8L614.6,135.9L617.6,136.6L618.3,139.6L616.4,144.9L617.1,147.7L618.7,149.6L620.2,151.6L621.7,153.5L623.2,155.6L624.6,157.6L626,159.7L627.3,161.8L628.5,164L629.7,166.2L630.9,168.4L633.2,170L638.8,170.3L641.4,172.1L640.8,175.2L637.1,179.3L636.6,182.2L637.3,184.5L638,186.9L638.7,189.3L639.2,191.8L639.7,194.2L640.2,196.6L640.6,199.1L640.9,201.6L641.2,204.1L641.4,206.5L643,209L648,211.4L649.7,214L648,216.6L643,219L641.4,221.5L641.2,223.9L640.9,226.4L640.6,228.9L640.2,231.4L639.7,233.8L639.2,236.2L638.7,238.7L638,241.1L637.3,243.5L636.6,245.8L637.1,248.7L640.8,252.8L641.4,255.9L638.8,257.7L633.2,258L630.9,259.6L629.7,261.8L628.5,264L627.3,266.2L626,268.3L624.6,270.4L623.2,272.4L621.7,274.5L620.2,276.4L618.7,278.4L617.1,280.3L616.4,283.1L618.3,288.4L617.6,291.4L614.6,292.1L609.3,290.2L606.5,290.9L604.6,292.5L602.6,294L600.7,295.5L598.6,297L596.6,298.4L594.5,299.8L592.4,301.1L590.2,302.3L588,303.5L585.8,304.7L584.2,307L583.9,312.6L582.1,315.2L579,314.6L574.9,310.9L572,310.4L569.7,311.1L567.3,311.8L564.9,312.5L562.4,313L560,313.5L557.6,314L555.1,314.4L552.6,314.7L550.1,315L547.7,315.2L545.2,316.8L542.8,321.8L540.2,323.5L537.6,321.8L535.2,316.8L532.7,315.2L530.3,315L527.8,314.7L525.3,314.4L522.8,314L520.4,313.5L518,313L515.5,312.5L513.1,311.8L510.7,311.1L508.4,310.4L505.5,310.9L501.4,314.6L498.3,315.2L496.5,312.6L496.2,307L494.6,304.7L492.4,303.5L490.2,302.3L488,301.1L485.9,299.8L483.8,298.4L481.8,297L479.7,295.5L477.8,294L475.8,292.5L473.9,290.9L471.1,290.2L465.8,292.1L462.8,291.4L462.1,288.4L464,283.1L463.3,280.3L461.7,278.4L460.2,276.4L458.7,274.5L457.2,272.4L455.8,270.4L454.4,268.3L453.1,266.2L451.9,264L450.7,261.8L449.5,259.6L447.2,258L441.6,257.7L439,255.9L439.6,252.8L443.3,248.7L443.8,245.8L443.1,243.5L442.4,241.1L441.7,238.7L441.2,236.2L440.7,233.8L440.2,231.4L439.8,228.9L439.5,226.4L439.2,223.9L439,221.5L437.4,219L432.4,216.6L430.7,214L432.4,211.4L437.4,209L439,206.5L439.2,204.1L439.5,201.6L439.8,199.1L440.2,196.6L440.7,194.2L441.2,191.8L441.7,189.3L442.4,186.9L443.1,184.5L443.8,182.2L443.3,179.3L439.6,175.2L439,172.1L441.6,170.3L447.2,170L449.5,168.4L450.7,166.2L451.9,164L453.1,161.8L454.4,159.7L455.8,157.6L457.2,155.6L458.7,153.5L460.2,151.6L461.7,149.6L463.3,147.7L464,144.9L462.1,139.6L462.8,136.6L465.8,135.9L471.1,137.8L473.9,137.1L475.8,135.5L477.8,134L479.7,132.5L481.8,131L483.8,129.6L485.9,128.2L488,126.9L490.2,125.7L492.4,124.5L494.6,123.3L496.2,121L496.5,115.4L498.3,112.8L501.4,113.4L505.5,117.1L508.4,117.6L510.7,116.9L513.1,116.2L515.5,115.5L518,115L520.4,114.5L522.8,114L525.3,113.6L527.8,113.3L530.3,113L532.7,112.8L535.2,111.2L537.6,106.2Z" fill="#b7b8ba" stroke="#4d4d4d" stroke-width="2.4" stroke-linejoin="round"/>
<circle cx="540.2" cy="214" r="89.5" fill="none" stroke="#9c9d9f" stroke-width="1.6"/>
<circle cx="540.2" cy="214" r="98.5" fill="none" stroke="#c6c7c9" stroke-width="3"/>
<ellipse cx="540.2" cy="116.5" rx="8.5" ry="4.6" transform="rotate(-90 540.2 116.5)" fill="#a2a3a5" stroke="#8b8c8e" stroke-width="1"/>
<ellipse cx="577.5" cy="123.9" rx="8.5" ry="4.6" transform="rotate(-67.5 577.5 123.9)" fill="#a2a3a5" stroke="#8b8c8e" stroke-width="1"/>
<ellipse cx="609.1" cy="145.1" rx="8.5" ry="4.6" transform="rotate(-45 609.1 145.1)" fill="#a2a3a5" stroke="#8b8c8e" stroke-width="1"/>
<ellipse cx="630.3" cy="176.7" rx="8.5" ry="4.6" transform="rotate(-22.5 630.3 176.7)" fill="#a2a3a5" stroke="#8b8c8e" stroke-width="1"/>
<ellipse cx="637.7" cy="214" rx="8.5" ry="4.6" transform="rotate(0 637.7 214)" fill="#a2a3a5" stroke="#8b8c8e" stroke-width="1"/>
<ellipse cx="630.3" cy="251.3" rx="8.5" ry="4.6" transform="rotate(22.5 630.3 251.3)" fill="#a2a3a5" stroke="#8b8c8e" stroke-width="1"/>
<ellipse cx="609.1" cy="282.9" rx="8.5" ry="4.6" transform="rotate(45 609.1 282.9)" fill="#a2a3a5" stroke="#8b8c8e" stroke-width="1"/>
<ellipse cx="577.5" cy="304.1" rx="8.5" ry="4.6" transform="rotate(67.5 577.5 304.1)" fill="#a2a3a5" stroke="#8b8c8e" stroke-width="1"/>
<ellipse cx="540.2" cy="311.5" rx="8.5" ry="4.6" transform="rotate(90 540.2 311.5)" fill="#a2a3a5" stroke="#8b8c8e" stroke-width="1"/>
<ellipse cx="502.9" cy="304.1" rx="8.5" ry="4.6" transform="rotate(112.5 502.9 304.1)" fill="#a2a3a5" stroke="#8b8c8e" stroke-width="1"/>
<ellipse cx="471.3" cy="282.9" rx="8.5" ry="4.6" transform="rotate(135 471.3 282.9)" fill="#a2a3a5" stroke="#8b8c8e" stroke-width="1"/>
<ellipse cx="450.1" cy="251.3" rx="8.5" ry="4.6" transform="rotate(157.5 450.1 251.3)" fill="#a2a3a5" stroke="#8b8c8e" stroke-width="1"/>
<ellipse cx="442.7" cy="214" rx="8.5" ry="4.6" transform="rotate(180 442.7 214)" fill="#a2a3a5" stroke="#8b8c8e" stroke-width="1"/>
<ellipse cx="450.1" cy="176.7" rx="8.5" ry="4.6" transform="rotate(202.5 450.1 176.7)" fill="#a2a3a5" stroke="#8b8c8e" stroke-width="1"/>
<ellipse cx="471.3" cy="145.1" rx="8.5" ry="4.6" transform="rotate(225 471.3 145.1)" fill="#a2a3a5" stroke="#8b8c8e" stroke-width="1"/>
<ellipse cx="502.9" cy="123.9" rx="8.5" ry="4.6" transform="rotate(247.5 502.9 123.9)" fill="#a2a3a5" stroke="#8b8c8e" stroke-width="1"/>
<circle cx="540.2" cy="214" r="85.5" fill="none" stroke="#8f9092" stroke-width="5"/>
<circle cx="540.2" cy="214" r="83" fill="#fff" stroke="#77787a" stroke-width="1.2"/>
<path d="M571.9,135.7A84.5,84.5 0 0 1 622.9,196.4" fill="none" stroke="#9b9c9e" stroke-width="11"/>
<path d="M465.6,253.7A84.5,84.5 0 0 1 464.9,175.6" fill="none" stroke="#9b9c9e" stroke-width="11"/>
<path d="M575.9,290.6A84.5,84.5 0 0 1 500.5,288.6" fill="none" stroke="#9b9c9e" stroke-width="11"/>
<!-- panel2 top -->
<circle cx="820.8" cy="600" r="8.5" fill="#c3c4c7" stroke="#5c5c5c" stroke-width="1.8"/>
<circle cx="971.2" cy="674.6" r="8.5" fill="#c3c4c7" stroke="#5c5c5c" stroke-width="1.8"/>
<circle cx="988.2" cy="764.3" r="8.5" fill="#c3c4c7" stroke="#5c5c5c" stroke-width="1.8"/>
<circle cx="834" cy="789.2" r="8.5" fill="#c3c4c7" stroke="#5c5c5c" stroke-width="1.8"/>
<path d="M823,607C826.9,604.4 826.6,597.3 832.6,594.3C838.6,591.3 850.1,589.6 858.8,589C867.5,588.4 876.3,588.6 885,590.4C893.7,592.1 903.2,595.8 911,599.5C918.8,603.2 925.9,607.8 932,612.6C938.1,617.4 944.7,623.9 947.7,628.3C950.8,632.7 949.9,637 950.3,638.8C952,641.4 958.5,649.6 960.8,654.5C963.1,659.4 963.5,665.8 964,668C964.3,671.4 965.7,685.1 966,688.5C968.6,690.2 979.1,697.2 981.7,698.9C984.3,705.9 994.8,733.8 997.4,740.8C997,742.5 995.2,749.5 994.8,751.2C992.3,754.3 982.5,766.9 980,770C979,769.5 979.2,765.8 973.8,767C968.4,768.2 958.6,773.9 947.7,777.4C936.8,780.9 921.6,785.6 908.5,787.8C895.4,790 879.2,790.9 869.2,790.5C859.2,790.1 853.5,786.6 848.3,785.2C843.1,783.8 839.7,782.5 838,782C835.4,781.2 828.8,782.1 822.2,777.4C815.6,772.7 805.1,762.9 798.6,753.8C792.1,744.6 786.9,733.4 783,722.5C779.1,711.6 775.9,699.4 775,688.5C774.1,677.6 775.1,667 777.7,657C780.3,647 785.6,636.1 790.8,628.3C796,620.5 803.6,613.5 809,610C814.4,606.5 819.1,609.6 823,607Z" fill="#dcdde0" stroke="#555" stroke-width="2.2" stroke-linejoin="round"/>
<circle cx="820.8" cy="600" r="4.6" fill="#cfd0d2" stroke="#6a6a6a" stroke-width="1.8"/><path d="M818.5999999999999,600h4.4M820.8,597.8v4.4" stroke="#8a8a8a" stroke-width="1"/>
<circle cx="971.2" cy="674.6" r="4.6" fill="#cfd0d2" stroke="#6a6a6a" stroke-width="1.8"/><path d="M969.0,674.6h4.4M971.2,672.4v4.4" stroke="#8a8a8a" stroke-width="1"/>
<circle cx="988.2" cy="764.3" r="4.6" fill="#cfd0d2" stroke="#6a6a6a" stroke-width="1.8"/><path d="M986.0,764.3h4.4M988.2,762.0999999999999v4.4" stroke="#8a8a8a" stroke-width="1"/>
<circle cx="834" cy="789.2" r="4.6" fill="#cfd0d2" stroke="#6a6a6a" stroke-width="1.8"/><path d="M831.8,789.2h4.4M834,787.0v4.4" stroke="#8a8a8a" stroke-width="1"/>
<circle cx="881.8" cy="685.3" r="66.5" fill="#b4b5b8" stroke="#9a9b9e" stroke-width="1.2"/>
<circle cx="881.8" cy="685.3" r="61" fill="none" stroke="#c9cacd" stroke-width="2"/>
<g transform="translate(881.8 685.3) rotate(0) scale(1 1)">
<circle r="55.5" fill="#c3c4c6"/>
<path d="M35.8,0L53.6,0L53.1,6.7L35.5,4.5Z" fill="#1a1a1a"/>
<path d="M34.8,7.4L52.4,11.1L50.6,17.6L33.6,11.7Z" fill="#181818"/>
<path d="M32.5,14.5L48.9,21.8L45.8,27.7L30.5,18.4Z" fill="#181818"/>
<path d="M29.1,21.2L43.3,31.5L39,36.7L26.2,24.6Z" fill="#1c1c1c"/>
<path d="M24.5,27.3L35.8,39.8L30.6,44L20.9,30.1Z" fill="#222222"/>
<path d="M18.8,32.6L26.8,46.4L20.8,49.4L14.6,34.7Z" fill="#2b2b2b"/>
<path d="M12,36.9L16.6,50.9L10,52.6L7.3,38.1Z" fill="#363636"/>
<path d="M4.2,39.9L5.6,53.3L-1.1,53.5L-0.8,40.1Z" fill="#434343"/>
<path d="M-4.3,41.3L-5.6,53.3L-12.2,52.1L-9.5,40.5Z" fill="#525252"/>
<path d="M-13.3,40.9L-16.6,50.9L-22.8,48.5L-18.3,39Z" fill="#636363"/>
<path d="M-22.3,38.6L-26.8,46.4L-32.4,42.7L-26.9,35.5Z" fill="#747474"/>
<path d="M-30.7,34.1L-35.8,39.8L-40.5,35L-34.8,30Z" fill="#888888"/>
<path d="M-37.7,27.4L-43.3,31.5L-46.9,25.8L-40.9,22.5Z" fill="#969696"/>
<path d="M-42.6,19L-48.9,21.8L-51.3,15.5L-44.6,13.5Z" fill="#969696"/>
<path d="M-45.6,9.7L-52.4,11.1L-53.4,4.5L-46.5,3.9Z" fill="#969696"/>
<path d="M-46.6,0L-53.6,0L-53.1,-6.7L-46.3,-5.8Z" fill="#969696"/>
<path d="M-45.6,-9.7L-52.4,-11.1L-50.6,-17.6L-44,-15.3Z" fill="#969696"/>
<path d="M-42.6,-19L-48.9,-21.8L-45.8,-27.7L-39.9,-24.2Z" fill="#969696"/>
<path d="M-37.7,-27.4L-43.3,-31.5L-39,-36.7L-34,-31.9Z" fill="#969696"/>
<path d="M-31.2,-34.6L-35.8,-39.8L-30.6,-44L-26.6,-38.3Z" fill="#969696"/>
<path d="M-23.3,-40.4L-26.8,-46.4L-20.8,-49.4L-18.1,-43Z" fill="#969696"/>
<path d="M-14.4,-44.3L-16.6,-50.9L-10,-52.6L-8.7,-45.8Z" fill="#949494"/>
<path d="M-4.7,-45L-5.6,-53.3L1.1,-53.5L0.9,-45.2Z" fill="#7e7e7e"/>
<path d="M4.6,-43.6L5.6,-53.3L12.2,-52.1L10,-42.6Z" fill="#6b6b6b"/>
<path d="M13.1,-40.2L16.6,-50.9L22.8,-48.5L18,-38.3Z" fill="#5a5a5a"/>
<path d="M20.4,-35.4L26.8,-46.4L32.4,-42.7L24.7,-32.5Z" fill="#4b4b4b"/>
<path d="M26.4,-29.3L35.8,-39.8L40.5,-35L29.8,-25.8Z" fill="#3c3c3c"/>
<path d="M30.9,-22.4L43.3,-31.5L46.9,-25.8L33.5,-18.4Z" fill="#303030"/>
<path d="M33.9,-15.1L48.9,-21.8L51.3,-15.5L35.5,-10.7Z" fill="#262626"/>
<path d="M35.5,-7.5L52.4,-11.1L53.4,-4.5L36.2,-3Z" fill="#1f1f1f"/>
<circle r="38.8" fill="#ededee"/>
<path d="M-38.8,-2.8 A38.8,38.8 0 0 0 19.4,35 C5.6,25 -13.9,8.3 -38.8,-2.8Z" fill="#9c9d9f" opacity=".6" filter="url(#b4)"/>
<line x1="0" y1="0" x2="38.8" y2="0" stroke="#c6c7c9" stroke-width="2.5"/>
<line x1="23.6" y1="6.3" x2="37.5" y2="10.1" stroke="#c6c7c9" stroke-width="2.2"/>
<line x1="0" y1="0" x2="33.6" y2="19.4" stroke="#c6c7c9" stroke-width="2.5"/>
<line x1="17.3" y1="17.3" x2="27.5" y2="27.5" stroke="#c6c7c9" stroke-width="2.2"/>
<line x1="0" y1="0" x2="19.4" y2="33.6" stroke="#c6c7c9" stroke-width="2.5"/>
<line x1="6.3" y1="23.6" x2="10.1" y2="37.5" stroke="#c6c7c9" stroke-width="2.2"/>
<line x1="0" y1="0" x2="0" y2="38.8" stroke="#c6c7c9" stroke-width="2.5"/>
<line x1="-6.3" y1="23.6" x2="-10.1" y2="37.5" stroke="#c6c7c9" stroke-width="2.2"/>
<line x1="-0" y1="0" x2="-19.4" y2="33.6" stroke="#c6c7c9" stroke-width="2.5"/>
<line x1="-17.3" y1="17.3" x2="-27.5" y2="27.5" stroke="#c6c7c9" stroke-width="2.2"/>
<line x1="-0" y1="0" x2="-33.6" y2="19.4" stroke="#c6c7c9" stroke-width="2.5"/>
<line x1="-23.6" y1="6.3" x2="-37.5" y2="10.1" stroke="#c6c7c9" stroke-width="2.2"/>
<line x1="-0" y1="0" x2="-38.8" y2="0" stroke="#c6c7c9" stroke-width="2.5"/>
<line x1="-23.6" y1="-6.3" x2="-37.5" y2="-10.1" stroke="#c6c7c9" stroke-width="2.2"/>
<line x1="-0" y1="-0" x2="-33.6" y2="-19.4" stroke="#c6c7c9" stroke-width="2.5"/>
<line x1="-17.3" y1="-17.3" x2="-27.5" y2="-27.5" stroke="#c6c7c9" stroke-width="2.2"/>
<line x1="-0" y1="-0" x2="-19.4" y2="-33.6" stroke="#c6c7c9" stroke-width="2.5"/>
<line x1="-6.3" y1="-23.6" x2="-10.1" y2="-37.5" stroke="#c6c7c9" stroke-width="2.2"/>
<line x1="-0" y1="-0" x2="-0" y2="-38.8" stroke="#c6c7c9" stroke-width="2.5"/>
<line x1="6.3" y1="-23.6" x2="10.1" y2="-37.5" stroke="#c6c7c9" stroke-width="2.2"/>
<line x1="0" y1="-0" x2="19.4" y2="-33.6" stroke="#c6c7c9" stroke-width="2.5"/>
<line x1="17.3" y1="-17.3" x2="27.5" y2="-27.5" stroke="#c6c7c9" stroke-width="2.2"/>
<line x1="0" y1="-0" x2="33.6" y2="-19.4" stroke="#c6c7c9" stroke-width="2.5"/>
<line x1="23.6" y1="-6.3" x2="37.5" y2="-10.1" stroke="#c6c7c9" stroke-width="2.2"/>
<circle r="38.8" fill="none" stroke="#c6c7c9" stroke-width="2.8"/>
<circle r="24.4" fill="none" stroke="#c6c7c9" stroke-width="2.5"/>
<circle r="5.8" fill="#f2f2f3" stroke="#c6c7c9" stroke-width="1.9"/>
</g>
<circle cx="875.8" cy="709.3" r="30" fill="#9d9ea0" opacity=".35" filter="url(#b8)"/>
<!-- texts -->
<g opacity="0.999"><g fill="#1a1a1a" font-weight="bold" font-size="38.65" text-anchor="middle"><text x="664.3" y="40.3">To install the Fan and the Battery-Pack</text><text x="664.8" y="80.3">Pour installer le Ventilateur et la Boîte des Batteries</text></g>
<circle cx="78.6" cy="146" r="14.3" fill="#161616"/><text x="78.8" y="151.9" font-size="16.5" font-weight="bold" fill="#fff" text-anchor="middle" letter-spacing="-1.2">1.</text>
<circle cx="701.5" cy="148" r="13.6" fill="#161616"/><text x="701.7" y="153.9" font-size="16.5" font-weight="bold" fill="#fff" text-anchor="middle" letter-spacing="-1.2">2.</text>
<circle cx="79.2" cy="831.5" r="14.8" fill="#161616"/><text x="79.4" y="837.4" font-size="16.5" font-weight="bold" fill="#fff" text-anchor="middle" letter-spacing="-1.2">3.</text>
<text x="79.7" y="189.0" font-size="18.7" text-anchor="start" fill="#1d1d1d" font-weight="bold">BEFORE WEARING COSTUME:</text>
<text x="79.7" y="211.3" font-size="18.7" text-anchor="start" fill="#1d1d1d">On fan mechanism, unscrew outer</text>
<text x="79.7" y="233.6" font-size="18.7" text-anchor="start" fill="#1d1d1d">fan ring counterclockwise.</text>
<text x="322" y="585.5" font-size="18.7" text-anchor="start" fill="#1d1d1d" font-weight="bold">AVANT DE PORTER LE COSTUME:</text>
<text x="322" y="607.9" font-size="18.7" text-anchor="start" fill="#1d1d1d">Au mécanisme du ventilateur,</text>
<text x="322" y="630.3" font-size="18.7" text-anchor="start" fill="#1d1d1d">dévisser l'anneau externe du</text>
<text x="322" y="652.7" font-size="18.7" text-anchor="start" fill="#1d1d1d">ventilateur à contraire des aiguilles.</text>
<text x="732.4" y="157.0" font-size="18.5" text-anchor="start" fill="#1d1d1d">Locate round opening on outside of costume.</text>
<text x="723.7" y="207.9" font-size="18.7" text-anchor="start" fill="#1d1d1d">Repérez l'ouverture</text>
<text x="723.7" y="230.4" font-size="18.7" text-anchor="start" fill="#1d1d1d">ronde à l'extérieur</text>
<text x="723.7" y="252.9" font-size="18.7" text-anchor="start" fill="#1d1d1d">du costume.</text>
<text x="989.5" y="609.5" font-size="18.7" text-anchor="start" fill="#1d1d1d">Place mechanism on</text>
<text x="989.5" y="628.3" font-size="18.7" text-anchor="start" fill="#1d1d1d">inside of costume</text>
<text x="989.5" y="647.1" font-size="18.7" text-anchor="start" fill="#1d1d1d">bringing round fan</text>
<text x="989.5" y="665.9" font-size="18.7" text-anchor="start" fill="#1d1d1d">through opening.</text>
<text x="1024.1" y="705.8" font-size="18.7" text-anchor="start" fill="#1d1d1d">Placez le mécanisme à</text>
<text x="1024.1" y="726.2" font-size="18.7" text-anchor="start" fill="#1d1d1d">l'intérieur du costume, avec</text>
<text x="1024.1" y="746.6" font-size="18.7" text-anchor="start" fill="#1d1d1d">la pièce ronde à venir à</text>
<text x="1024.1" y="767.0" font-size="18.7" text-anchor="start" fill="#1d1d1d">travers l'ouverture.</text>
<text x="83.4" y="875.8" font-size="18.7" text-anchor="start" fill="#1d1d1d">Screw outer fan ring</text>
<text x="83.4" y="898.3" font-size="18.7" text-anchor="start" fill="#1d1d1d">back into place to</text>
<text x="83.4" y="920.8" font-size="18.7" text-anchor="start" fill="#1d1d1d">secure fan to costume.</text>
<text x="451.6" y="1143.0" font-size="18.7" text-anchor="start" fill="#1d1d1d">Vissez l'anneau</text>
<text x="451.6" y="1165.6" font-size="18.7" text-anchor="start" fill="#1d1d1d">d'extérieure du</text>
<text x="451.6" y="1188.2" font-size="18.7" text-anchor="start" fill="#1d1d1d">ventilateur encore une</text>
<text x="451.6" y="1210.8" font-size="18.7" text-anchor="start" fill="#1d1d1d">fois sur le ventilateur,</text>
<text x="451.6" y="1233.4" font-size="18.7" text-anchor="start" fill="#1d1d1d">pour attacher-le sur le</text>
<text x="451.6" y="1256.0" font-size="18.7" text-anchor="start" fill="#1d1d1d">costume.</text>
<text x="962.3" y="853.2" font-size="18.7" text-anchor="middle" fill="#1d1d1d">Finished look.</text>
<text x="962.3" y="875.4" font-size="18.7" text-anchor="middle" fill="#1d1d1d">L'aspect fini.</text>
<text x="55.6" y="1390.8" font-size="18.93" fill="#1d1d1d"><tspan font-weight="bold">4.</tspan> Plug in power cord from battery-pack to fan.</text>
<text x="55.6" y="1413.2" font-size="18.93" fill="#1d1d1d">Branchez le cordon d'alimentation de la boîte des batteries au ventilateur.</text>
<text x="55.6" y="1450.7" font-size="18.93" fill="#1d1d1d"><tspan font-weight="bold">5.</tspan> Move battery-pack switch to ON position. Step into costume. Clip battery-pack to your own clothing inside.</text>
<text x="55.6" y="1473.6" font-size="18.93" fill="#1d1d1d">Déplacer l'interrupteur de la boîte des batteries à la position ON (marche). Entrez dans le costume. Attachez la boîte des batteries à votre</text>
<text x="55.6" y="1495.7" font-size="18.93" fill="#1d1d1d">propres vêtements.</text>
<text x="55.6" y="1533" font-size="18.93" fill="#1d1d1d"><tspan font-weight="bold">6.</tspan> Secure neck, wrist and leg openings so air does not escape from costume. After taking off costume, switch battery back to OFF position and</text>
<text x="55.6" y="1555.7" font-size="18.93" fill="#1d1d1d">remove batteries.</text>
<text x="55.6" y="1578.4" font-size="18.93" fill="#1d1d1d">Sécurisez les ouvertures du cou, du poignet et de la jambe pour que l'air ne s'échappe pas du costume. Après avoir décollé de costume,</text>
<text x="55.6" y="1601.2" font-size="18.93" fill="#1d1d1d">déplacez l'interrupteur de la boîte des batteries à la position OFF (arrêt) et enlevez les piles.</text></g>
</g>
</svg>
</body></html>
